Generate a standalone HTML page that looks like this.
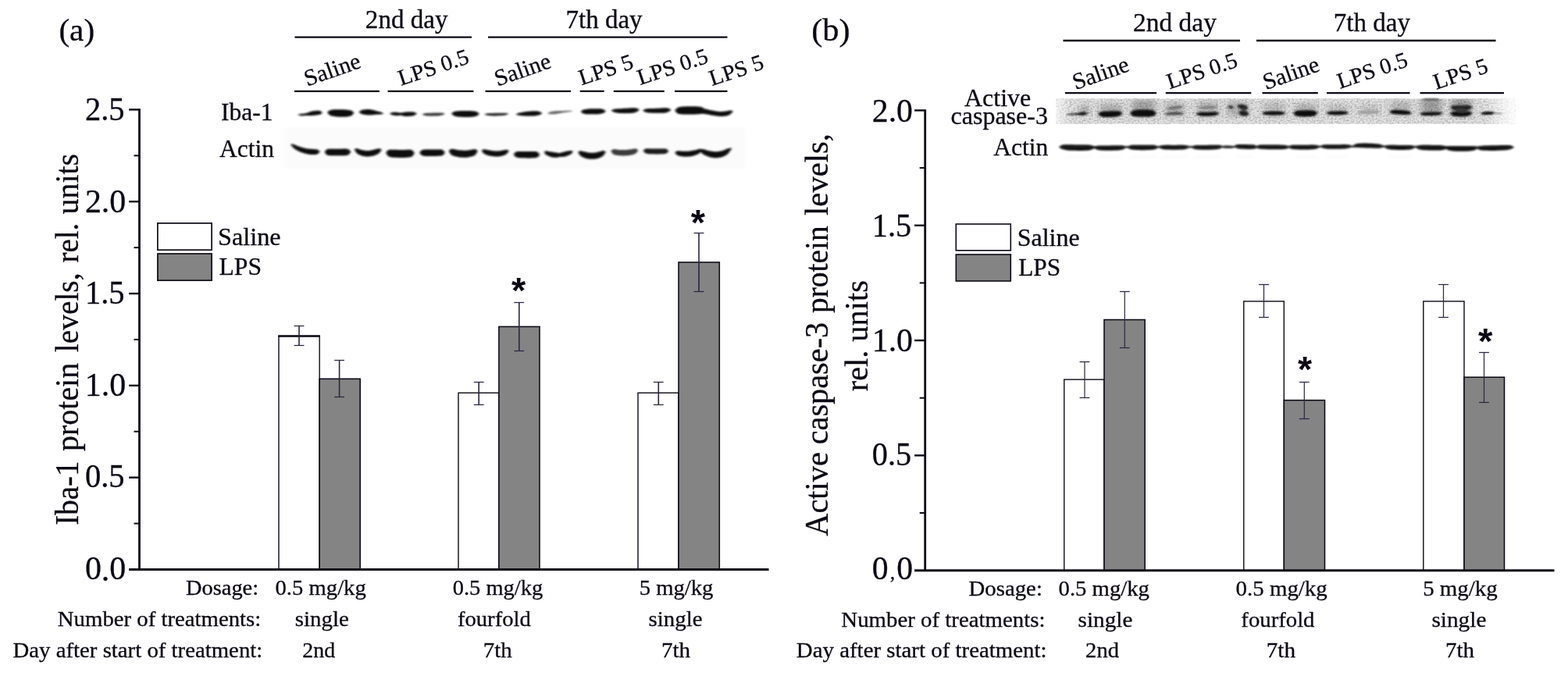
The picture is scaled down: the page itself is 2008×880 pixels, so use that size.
<!DOCTYPE html>
<html lang="en"><head><meta charset="utf-8"><title>Figure</title>
<style>html,body{margin:0;padding:0;background:#fff}body{width:2008px;height:880px;overflow:hidden}svg{display:block}.s{font-family:"Liberation Serif","Times New Roman",serif;fill:#0c0814;stroke:#0c0814;stroke-width:0.3px}.b{font-family:"Liberation Sans",Arial,sans-serif;font-weight:700;fill:#0c0814}</style></head><body>
<svg width="2008" height="880" viewBox="0 0 2008 880">
<defs><filter id="bl1" filterUnits="userSpaceOnUse" x="340" y="110" width="1640" height="120"><feGaussianBlur stdDeviation="1.5 1.0"/></filter><filter id="bl2" filterUnits="userSpaceOnUse" x="340" y="110" width="1640" height="120"><feGaussianBlur stdDeviation="2.4 1.6"/></filter><filter id="bl3" filterUnits="userSpaceOnUse" x="340" y="110" width="1640" height="120"><feGaussianBlur stdDeviation="4 3"/></filter><filter id="nz" filterUnits="userSpaceOnUse" x="1352" y="126.2" width="588.5" height="32.6"><feTurbulence type="fractalNoise" baseFrequency="0.4 0.5" numOctaves="2" seed="11" result="n"/><feColorMatrix in="n" type="matrix" values="0 0 0 0 0  0 0 0 0 0  0 0 0 0 0  0.38 0.38 0 0 -0.31"/></filter><linearGradient id="gb" x1="0" x2="1" y1="0" y2="0"><stop offset="0" stop-color="#f0f0f0"/><stop offset="0.035" stop-color="#e6e6e6"/><stop offset="0.93" stop-color="#e6e6e6"/><stop offset="1" stop-color="#f8f8f8"/></linearGradient><linearGradient id="gf" x1="0" x2="1" y1="0" y2="0"><stop offset="0" stop-color="#fff" stop-opacity="0.6"/><stop offset="0.03" stop-color="#fff" stop-opacity="0"/><stop offset="0.935" stop-color="#fff" stop-opacity="0"/><stop offset="1" stop-color="#fff" stop-opacity="0.85"/></linearGradient><clipPath id="cpB"><rect x="1352" y="126.2" width="588.5" height="32.6"/></clipPath></defs>
<rect width="2008" height="880" fill="#fff"/>
<g id="blotA">
<rect x="366" y="163" width="588" height="53" fill="#fbfbfb" filter="url(#bl2)"/>
<g filter="url(#bl1)">
<path d="M381.5 146.80C381.5 146.44 383.2 146.08 384.1 145.89C384.9 145.69 385.8 145.73 386.7 145.65C387.5 145.57 388.4 145.49 389.2 145.40C390.1 145.30 391.0 145.25 391.8 145.06C392.7 144.87 393.6 144.55 394.4 144.25C395.3 143.96 396.1 143.58 397.0 143.29C397.9 143.01 398.7 142.73 399.6 142.54C400.4 142.34 401.3 142.25 402.2 142.12C403.0 142.00 403.9 141.87 404.8 141.79C405.6 141.72 406.5 141.63 407.3 141.65C408.2 141.68 409.1 141.50 409.9 141.95C410.8 142.41 412.5 143.62 412.5 144.40C412.5 145.18 410.8 146.19 409.9 146.64C409.1 147.09 408.2 146.97 407.3 147.09C406.5 147.22 405.6 147.29 404.8 147.39C403.9 147.49 403.0 147.59 402.2 147.70C401.3 147.82 400.4 147.99 399.6 148.07C398.7 148.14 397.9 148.16 397.0 148.15C396.1 148.14 395.3 148.06 394.4 148.02C393.6 147.99 392.7 147.92 391.8 147.95C391.0 147.98 390.1 148.14 389.2 148.19C388.4 148.25 387.5 148.30 386.7 148.28C385.8 148.26 384.9 148.32 384.1 148.07C383.2 147.82 381.5 147.16 381.5 146.80Z" fill="#0a0a0a"/>
<path d="M419.5 144.20C419.5 143.18 421.4 141.95 422.3 141.35C423.2 140.76 424.2 140.81 425.1 140.64C426.0 140.47 426.9 140.40 427.9 140.33C428.8 140.27 429.7 140.25 430.7 140.24C431.6 140.22 432.5 140.24 433.5 140.25C434.4 140.26 435.3 140.29 436.2 140.30C437.2 140.32 438.1 140.33 439.0 140.35C440.0 140.37 440.9 140.39 441.8 140.44C442.8 140.48 443.7 140.53 444.6 140.63C445.6 140.73 446.5 140.83 447.4 141.04C448.3 141.24 449.3 141.23 450.2 141.85C451.1 142.48 453.0 143.78 453.0 144.80C453.0 145.82 451.1 147.27 450.2 147.95C449.3 148.64 448.3 148.68 447.4 148.92C446.5 149.17 445.6 149.30 444.6 149.42C443.7 149.55 442.8 149.61 441.8 149.66C440.9 149.71 440.0 149.72 439.0 149.73C438.1 149.74 437.2 149.72 436.2 149.70C435.3 149.69 434.4 149.67 433.5 149.63C432.5 149.59 431.6 149.54 430.7 149.46C429.7 149.38 428.8 149.28 427.9 149.12C426.9 148.97 426.0 148.80 425.1 148.52C424.2 148.24 423.2 148.18 422.3 147.45C421.4 146.73 419.5 145.22 419.5 144.20Z" fill="#0a0a0a"/>
<path d="M460.0 143.60C460.0 142.84 461.7 141.79 462.6 141.29C463.4 140.78 464.3 140.75 465.2 140.57C466.0 140.39 466.9 140.29 467.8 140.20C468.6 140.12 469.5 140.08 470.3 140.06C471.2 140.03 472.1 140.00 472.9 140.07C473.8 140.13 474.6 140.27 475.5 140.43C476.4 140.59 477.2 140.81 478.1 141.02C478.9 141.23 479.8 141.46 480.7 141.70C481.5 141.94 482.4 142.22 483.2 142.46C484.1 142.69 485.0 142.87 485.8 143.11C486.7 143.36 487.6 143.54 488.4 143.92C489.3 144.31 491.0 145.02 491.0 145.40C491.0 145.78 489.3 146.03 488.4 146.20C487.6 146.36 486.7 146.35 485.8 146.40C485.0 146.45 484.1 146.45 483.2 146.51C482.4 146.58 481.5 146.71 480.7 146.80C479.8 146.90 478.9 146.99 478.1 147.08C477.2 147.16 476.4 147.28 475.5 147.33C474.6 147.39 473.8 147.45 472.9 147.43C472.1 147.42 471.2 147.32 470.3 147.24C469.5 147.16 468.6 147.08 467.8 146.97C466.9 146.85 466.0 146.73 465.2 146.54C464.3 146.35 463.4 146.32 462.6 145.83C461.7 145.34 460.0 144.36 460.0 143.60Z" fill="#0a0a0a"/>
<path d="M499.5 145.40C499.5 144.86 501.4 144.28 502.3 144.02C503.3 143.76 504.2 143.85 505.2 143.82C506.1 143.78 507.1 143.76 508.0 143.81C508.9 143.86 509.9 144.03 510.8 144.14C511.8 144.25 512.7 144.50 513.7 144.48C514.6 144.46 515.6 144.19 516.5 144.03C517.4 143.86 518.4 143.61 519.3 143.51C520.3 143.40 521.2 143.40 522.2 143.38C523.1 143.35 524.1 143.35 525.0 143.37C525.9 143.38 526.9 143.38 527.8 143.45C528.8 143.52 529.7 143.43 530.7 143.78C531.6 144.14 533.5 144.93 533.5 145.60C533.5 146.27 531.6 147.34 530.7 147.81C529.7 148.29 528.8 148.30 527.8 148.47C526.9 148.63 525.9 148.71 525.0 148.79C524.1 148.87 523.1 148.92 522.2 148.94C521.2 148.96 520.3 148.99 519.3 148.90C518.4 148.80 517.4 148.55 516.5 148.38C515.6 148.21 514.6 147.91 513.7 147.86C512.7 147.80 511.8 148.00 510.8 148.05C509.9 148.09 508.9 148.18 508.0 148.15C507.1 148.11 506.1 147.98 505.2 147.83C504.2 147.68 503.3 147.65 502.3 147.24C501.4 146.84 499.5 145.94 499.5 145.40Z" fill="#0a0a0a"/>
<path d="M541.0 146.40C541.0 145.99 542.6 145.52 543.4 145.28C544.2 145.04 545.0 145.05 545.8 144.97C546.5 144.89 547.3 144.85 548.1 144.81C548.9 144.77 549.7 144.74 550.5 144.72C551.3 144.69 552.1 144.68 552.9 144.66C553.7 144.65 554.5 144.63 555.2 144.62C556.0 144.60 556.8 144.58 557.6 144.56C558.4 144.55 559.2 144.53 560.0 144.52C560.8 144.51 561.6 144.50 562.4 144.51C563.2 144.52 564.0 144.53 564.8 144.57C565.5 144.62 566.3 144.57 567.1 144.78C567.9 144.98 569.5 145.39 569.5 145.80C569.5 146.21 567.9 146.90 567.1 147.24C566.3 147.57 565.5 147.65 564.8 147.80C564.0 147.96 563.2 148.07 562.4 148.17C561.6 148.27 560.8 148.34 560.0 148.40C559.2 148.46 558.4 148.51 557.6 148.54C556.8 148.58 556.0 148.60 555.2 148.62C554.5 148.63 553.7 148.65 552.9 148.64C552.1 148.64 551.3 148.63 550.5 148.60C549.7 148.57 548.9 148.53 548.1 148.47C547.3 148.40 546.5 148.32 545.8 148.20C545.0 148.08 544.2 148.04 543.4 147.74C542.6 147.44 541.0 146.81 541.0 146.40Z" fill="#3c3c3c"/>
<path d="M578.5 145.60C578.5 144.73 580.4 143.64 581.4 143.11C582.4 142.59 583.4 142.61 584.3 142.44C585.3 142.28 586.3 142.21 587.2 142.13C588.2 142.06 589.2 142.03 590.2 142.01C591.1 141.98 592.1 141.99 593.1 141.98C594.1 141.98 595.0 141.99 596.0 142.00C597.0 142.01 597.9 142.01 598.9 142.02C599.9 142.03 600.9 142.04 601.8 142.07C602.8 142.11 603.8 142.15 604.8 142.23C605.7 142.32 606.7 142.40 607.7 142.58C608.6 142.75 609.6 142.74 610.6 143.28C611.6 143.82 613.5 144.93 613.5 145.80C613.5 146.67 611.6 147.89 610.6 148.47C609.6 149.05 608.6 149.08 607.7 149.29C606.7 149.50 605.7 149.61 604.8 149.72C603.8 149.82 602.8 149.88 601.8 149.93C600.9 149.97 599.9 149.99 598.9 150.00C597.9 150.01 597.0 150.01 596.0 150.00C595.0 149.99 594.1 149.99 593.1 149.97C592.1 149.94 591.1 149.92 590.2 149.86C589.2 149.80 588.2 149.73 587.2 149.62C586.3 149.50 585.3 149.37 584.3 149.16C583.4 148.94 582.4 148.90 581.4 148.30C580.4 147.71 578.5 146.47 578.5 145.60Z" fill="#0a0a0a"/>
<path d="M620.5 146.40C620.5 146.03 622.2 145.61 623.1 145.40C623.9 145.18 624.8 145.19 625.7 145.12C626.5 145.06 627.4 145.02 628.2 144.98C629.1 144.94 630.0 144.92 630.8 144.90C631.7 144.87 632.6 144.86 633.4 144.84C634.3 144.83 635.1 144.82 636.0 144.80C636.9 144.78 637.7 144.76 638.6 144.74C639.4 144.73 640.3 144.71 641.2 144.70C642.0 144.69 642.9 144.68 643.8 144.68C644.6 144.68 645.5 144.69 646.3 144.72C647.2 144.76 648.1 144.72 648.9 144.90C649.8 145.08 651.5 145.43 651.5 145.80C651.5 146.17 649.8 146.80 648.9 147.11C648.1 147.41 647.2 147.49 646.3 147.63C645.5 147.77 644.6 147.88 643.8 147.97C642.9 148.06 642.0 148.13 641.2 148.19C640.3 148.25 639.4 148.29 638.6 148.33C637.7 148.36 636.9 148.38 636.0 148.40C635.1 148.42 634.3 148.43 633.4 148.43C632.6 148.43 631.7 148.42 630.8 148.39C630.0 148.37 629.1 148.33 628.2 148.27C627.4 148.21 626.5 148.14 625.7 148.03C624.8 147.92 623.9 147.88 623.1 147.61C622.2 147.34 620.5 146.77 620.5 146.40Z" fill="#2e2e2e"/>
<path d="M661.0 146.40C661.0 145.97 662.8 145.31 663.8 144.96C664.7 144.60 665.6 144.46 666.5 144.25C667.4 144.04 668.3 143.86 669.2 143.69C670.2 143.52 671.1 143.36 672.0 143.22C672.9 143.08 673.8 142.95 674.8 142.86C675.7 142.76 676.6 142.70 677.5 142.63C678.4 142.57 679.3 142.50 680.2 142.45C681.2 142.39 682.1 142.34 683.0 142.32C683.9 142.31 684.8 142.32 685.8 142.37C686.7 142.41 687.6 142.48 688.5 142.61C689.4 142.73 690.3 142.73 691.2 143.13C692.2 143.53 694.0 144.34 694.0 145.00C694.0 145.66 692.2 146.60 691.2 147.06C690.3 147.52 689.4 147.58 688.5 147.77C687.6 147.97 686.7 148.10 685.8 148.22C684.8 148.33 683.9 148.41 683.0 148.47C682.1 148.53 681.2 148.54 680.2 148.57C679.3 148.59 678.4 148.60 677.5 148.61C676.6 148.62 675.7 148.64 674.8 148.62C673.8 148.61 672.9 148.56 672.0 148.50C671.1 148.45 670.2 148.38 669.2 148.29C668.3 148.21 667.4 148.12 666.5 148.00C665.6 147.87 664.7 147.83 663.8 147.56C662.8 147.30 661.0 146.83 661.0 146.40Z" fill="#0a0a0a"/>
<path d="M701.5 145.20C701.5 144.78 703.3 144.01 704.2 143.62C705.1 143.23 705.9 143.09 706.8 142.87C707.7 142.65 708.6 142.44 709.5 142.29C710.4 142.14 711.3 142.02 712.2 141.96C713.1 141.89 713.9 141.91 714.8 141.91C715.7 141.90 716.6 141.91 717.5 141.92C718.4 141.93 719.3 141.96 720.2 141.95C721.1 141.95 721.9 141.90 722.8 141.88C723.7 141.86 724.6 141.83 725.5 141.81C726.4 141.80 727.3 141.79 728.2 141.80C729.1 141.80 729.9 141.78 730.8 141.85C731.7 141.91 733.5 142.02 733.5 142.20C733.5 142.38 731.7 142.72 730.8 142.91C729.9 143.09 729.1 143.20 728.2 143.33C727.3 143.47 726.4 143.60 725.5 143.72C724.6 143.85 723.7 143.96 722.8 144.09C721.9 144.21 721.1 144.32 720.2 144.47C719.3 144.62 718.4 144.82 717.5 145.00C716.6 145.17 715.7 145.35 714.8 145.52C713.9 145.69 713.1 145.89 712.2 146.01C711.3 146.13 710.4 146.20 709.5 146.24C708.6 146.29 707.7 146.28 706.8 146.26C705.9 146.24 705.1 146.31 704.2 146.13C703.3 145.95 701.5 145.62 701.5 145.20Z" fill="#6a6a6a"/>
<path d="M744.0 143.00C744.0 142.24 745.8 141.21 746.6 140.71C747.5 140.21 748.4 140.20 749.2 140.02C750.1 139.85 751.0 139.75 751.9 139.65C752.8 139.56 753.6 139.51 754.5 139.46C755.4 139.41 756.2 139.39 757.1 139.36C758.0 139.33 758.9 139.32 759.8 139.30C760.6 139.29 761.5 139.27 762.4 139.26C763.2 139.25 764.1 139.24 765.0 139.26C765.9 139.27 766.8 139.29 767.6 139.35C768.5 139.42 769.4 139.48 770.2 139.62C771.1 139.76 772.0 139.75 772.9 140.21C773.8 140.67 775.5 141.64 775.5 142.40C775.5 143.16 773.8 144.24 772.9 144.75C772.0 145.27 771.1 145.30 770.2 145.49C769.4 145.69 768.5 145.80 767.6 145.90C766.8 146.01 765.9 146.07 765.0 146.13C764.1 146.18 763.2 146.21 762.4 146.24C761.5 146.27 760.6 146.29 759.8 146.30C758.9 146.32 758.0 146.34 757.1 146.34C756.2 146.35 755.4 146.35 754.5 146.33C753.6 146.30 752.8 146.27 751.9 146.20C751.0 146.13 750.1 146.05 749.2 145.89C748.4 145.74 747.5 145.74 746.6 145.25C745.8 144.77 744.0 143.76 744.0 143.00Z" fill="#0a0a0a"/>
<path d="M783.0 141.60C783.0 141.01 785.0 140.36 786.0 140.03C786.9 139.69 787.9 139.69 788.9 139.57C789.9 139.45 790.9 139.38 791.9 139.31C792.9 139.24 793.8 139.18 794.8 139.13C795.8 139.08 796.8 139.03 797.8 138.98C798.8 138.93 799.8 138.89 800.8 138.83C801.7 138.77 802.7 138.70 803.7 138.63C804.7 138.57 805.7 138.49 806.7 138.43C807.7 138.38 808.6 138.31 809.6 138.29C810.6 138.27 811.6 138.25 812.6 138.32C813.6 138.38 814.6 138.30 815.5 138.68C816.5 139.06 818.5 139.84 818.5 140.60C818.5 141.36 816.5 142.63 815.5 143.22C814.6 143.82 813.6 143.94 812.6 144.19C811.6 144.44 810.6 144.60 809.6 144.73C808.6 144.86 807.7 144.93 806.7 145.00C805.7 145.06 804.7 145.09 803.7 145.11C802.7 145.13 801.7 145.13 800.8 145.13C799.8 145.13 798.8 145.12 797.8 145.09C796.8 145.07 795.8 145.03 794.8 144.97C793.8 144.90 792.9 144.83 791.9 144.71C790.9 144.60 789.9 144.47 788.9 144.27C787.9 144.08 786.9 143.99 786.0 143.55C785.0 143.10 783.0 142.19 783.0 141.60Z" fill="#0a0a0a"/>
<path d="M823.5 141.40C823.5 140.76 825.5 140.00 826.5 139.64C827.4 139.27 828.4 139.31 829.4 139.20C830.4 139.10 831.4 139.05 832.4 139.00C833.4 138.95 834.3 138.94 835.3 138.92C836.3 138.89 837.3 138.89 838.3 138.88C839.3 138.86 840.3 138.88 841.2 138.84C842.2 138.80 843.2 138.70 844.2 138.63C845.2 138.56 846.2 138.49 847.2 138.43C848.2 138.37 849.1 138.30 850.1 138.29C851.1 138.28 852.1 138.28 853.1 138.36C854.1 138.44 855.1 138.39 856.0 138.80C857.0 139.20 859.0 140.04 859.0 140.80C859.0 141.56 857.0 142.77 856.0 143.34C855.1 143.91 854.1 144.01 853.1 144.23C852.1 144.46 851.1 144.58 850.1 144.68C849.1 144.78 848.2 144.81 847.2 144.84C846.2 144.87 845.2 144.87 844.2 144.86C843.2 144.85 842.2 144.80 841.2 144.79C840.3 144.78 839.3 144.82 838.3 144.81C837.3 144.81 836.3 144.79 835.3 144.75C834.3 144.71 833.4 144.66 832.4 144.57C831.4 144.47 830.4 144.37 829.4 144.19C828.4 144.01 827.4 143.96 826.5 143.50C825.5 143.03 823.5 142.04 823.5 141.40Z" fill="#0a0a0a"/>
<path d="M864.5 141.60C864.5 140.38 866.6 138.66 867.7 137.88C868.8 137.11 869.8 137.17 870.9 136.94C872.0 136.72 873.1 136.63 874.1 136.54C875.2 136.44 876.3 136.41 877.3 136.38C878.4 136.34 879.5 136.34 880.5 136.32C881.6 136.31 882.7 136.31 883.8 136.30C884.8 136.30 885.9 136.29 887.0 136.29C888.0 136.29 889.1 136.29 890.2 136.31C891.2 136.34 892.3 136.35 893.4 136.44C894.4 136.52 895.5 136.60 896.6 136.81C897.7 137.02 898.7 136.95 899.8 137.72C900.9 138.48 903.0 140.18 903.0 141.40C903.0 142.62 900.9 144.30 899.8 145.06C898.7 145.81 897.7 145.74 896.6 145.95C895.5 146.16 894.4 146.23 893.4 146.31C892.3 146.40 891.2 146.42 890.2 146.45C889.1 146.48 888.0 146.48 887.0 146.49C885.9 146.49 884.8 146.50 883.8 146.50C882.7 146.51 881.6 146.52 880.5 146.52C879.5 146.52 878.4 146.53 877.3 146.51C876.3 146.50 875.2 146.49 874.1 146.41C873.1 146.34 872.0 146.28 870.9 146.08C869.8 145.88 868.8 145.97 867.7 145.22C866.6 144.48 864.5 142.82 864.5 141.60Z" fill="#0a0a0a"/>
<path d="M893.0 141.32C893.0 140.22 895.5 138.83 896.8 138.43C898.1 138.03 899.3 138.67 900.6 138.91C901.8 139.14 903.1 139.53 904.4 139.84C905.6 140.16 906.9 140.50 908.2 140.79C909.4 141.07 910.7 141.32 912.0 141.56C913.2 141.80 914.5 142.03 915.8 142.23C917.0 142.42 918.3 142.59 919.5 142.70C920.8 142.82 922.1 142.90 923.3 142.92C924.6 142.93 925.9 142.90 927.1 142.80C928.4 142.70 929.7 142.51 930.9 142.31C932.2 142.10 933.4 141.54 934.7 141.58C936.0 141.61 938.5 141.67 938.5 142.54C938.5 143.40 936.0 145.83 934.7 146.77C933.4 147.70 932.2 147.82 930.9 148.15C929.7 148.49 928.4 148.65 927.1 148.79C925.9 148.92 924.6 148.96 923.3 148.96C922.1 148.95 920.8 148.88 919.5 148.78C918.3 148.68 917.0 148.52 915.8 148.34C914.5 148.16 913.2 147.94 912.0 147.71C910.7 147.48 909.4 147.20 908.2 146.97C906.9 146.74 905.6 146.54 904.4 146.34C903.1 146.15 901.8 146.01 900.6 145.80C899.3 145.58 898.1 145.78 896.8 145.04C895.5 144.29 893.0 142.42 893.0 141.32Z" fill="#0a0a0a"/>
<path d="M372.5 185.00C372.5 184.24 374.6 184.56 375.6 184.72C376.6 184.89 377.6 185.55 378.7 185.97C379.7 186.40 380.7 186.85 381.8 187.25C382.8 187.65 383.8 188.03 384.8 188.37C385.9 188.71 386.9 189.01 387.9 189.28C388.9 189.54 390.0 189.78 391.0 189.98C392.0 190.18 393.1 190.34 394.1 190.47C395.1 190.60 396.1 190.69 397.2 190.77C398.2 190.85 399.2 190.91 400.2 190.97C401.3 191.03 402.3 191.05 403.3 191.15C404.4 191.24 405.4 191.02 406.4 191.53C407.4 192.04 409.5 193.22 409.5 194.20C409.5 195.18 407.4 196.76 406.4 197.40C405.4 198.04 404.4 197.90 403.3 198.02C402.3 198.14 401.3 198.14 400.2 198.11C399.2 198.09 398.2 198.01 397.2 197.89C396.1 197.77 395.1 197.59 394.1 197.39C393.1 197.19 392.0 196.96 391.0 196.70C390.0 196.43 388.9 196.14 387.9 195.80C386.9 195.46 385.9 195.08 384.8 194.66C383.8 194.24 382.8 193.79 381.8 193.28C380.7 192.76 379.7 192.22 378.7 191.56C377.6 190.90 376.6 190.41 375.6 189.31C374.6 188.22 372.5 185.76 372.5 185.00Z" fill="#0a0a0a"/>
<path d="M416.0 194.80C416.0 193.63 417.8 192.03 418.8 191.37C419.7 190.70 420.6 190.94 421.5 190.82C422.4 190.71 423.3 190.73 424.2 190.71C425.2 190.69 426.1 190.70 427.0 190.70C427.9 190.70 428.8 190.71 429.8 190.71C430.7 190.71 431.6 190.70 432.5 190.70C433.4 190.69 434.3 190.68 435.2 190.67C436.2 190.66 437.1 190.64 438.0 190.63C438.9 190.62 439.8 190.60 440.8 190.61C441.7 190.62 442.6 190.59 443.5 190.69C444.4 190.79 445.3 190.55 446.2 191.20C447.2 191.85 449.0 193.43 449.0 194.60C449.0 195.77 447.2 197.50 446.2 198.21C445.3 198.93 444.4 198.75 443.5 198.91C442.6 199.06 441.7 199.09 440.8 199.14C439.8 199.19 438.9 199.21 438.0 199.23C437.1 199.25 436.2 199.26 435.2 199.27C434.3 199.28 433.4 199.29 432.5 199.30C431.6 199.30 430.7 199.31 429.8 199.31C428.8 199.31 427.9 199.31 427.0 199.29C426.1 199.28 425.2 199.28 424.2 199.24C423.3 199.20 422.4 199.18 421.5 199.04C420.6 198.90 419.7 199.09 418.8 198.38C417.8 197.67 416.0 195.97 416.0 194.80Z" fill="#0a0a0a"/>
<path d="M454.0 191.20C454.0 190.22 455.9 190.17 456.9 190.14C457.8 190.11 458.8 190.71 459.8 191.00C460.7 191.29 461.7 191.62 462.6 191.88C463.6 192.13 464.5 192.36 465.5 192.53C466.5 192.70 467.4 192.82 468.4 192.89C469.3 192.96 470.3 192.97 471.2 192.94C472.2 192.91 473.2 192.83 474.1 192.70C475.1 192.58 476.0 192.40 477.0 192.20C478.0 192.00 478.9 191.75 479.9 191.51C480.8 191.26 481.8 190.96 482.8 190.74C483.7 190.52 484.7 190.01 485.6 190.19C486.6 190.36 488.5 190.82 488.5 191.80C488.5 192.78 486.6 195.06 485.6 196.06C484.7 197.07 483.7 197.33 482.8 197.82C481.8 198.31 480.8 198.66 479.9 198.99C478.9 199.31 478.0 199.57 477.0 199.79C476.0 200.01 475.1 200.18 474.1 200.30C473.2 200.43 472.2 200.51 471.2 200.54C470.3 200.57 469.3 200.56 468.4 200.49C467.4 200.42 466.5 200.31 465.5 200.12C464.5 199.93 463.6 199.70 462.6 199.36C461.7 199.02 460.7 198.64 459.8 198.08C458.8 197.53 457.8 197.17 456.9 196.02C455.9 194.87 454.0 192.18 454.0 191.20Z" fill="#0a0a0a"/>
<path d="M494.5 195.80C494.5 194.44 496.5 192.76 497.5 192.08C498.5 191.39 499.5 191.73 500.5 191.67C501.5 191.61 502.5 191.69 503.5 191.72C504.5 191.75 505.5 191.81 506.5 191.85C507.5 191.89 508.5 191.93 509.5 191.96C510.5 191.98 511.5 192.00 512.5 192.00C513.5 192.01 514.5 192.00 515.5 191.99C516.5 191.98 517.5 191.95 518.5 191.92C519.5 191.89 520.5 191.84 521.5 191.82C522.5 191.80 523.5 191.73 524.5 191.80C525.5 191.88 526.5 191.54 527.5 192.24C528.5 192.94 530.5 194.64 530.5 196.00C530.5 197.36 528.5 199.51 527.5 200.40C526.5 201.29 525.5 201.13 524.5 201.36C523.5 201.58 522.5 201.65 521.5 201.74C520.5 201.83 519.5 201.87 518.5 201.91C517.5 201.95 516.5 201.97 515.5 201.99C514.5 202.01 513.5 202.01 512.5 202.00C511.5 202.00 510.5 201.98 509.5 201.96C508.5 201.93 507.5 201.90 506.5 201.84C505.5 201.79 504.5 201.74 503.5 201.64C502.5 201.53 501.5 201.46 500.5 201.22C499.5 200.99 498.5 201.14 497.5 200.23C496.5 199.33 494.5 197.16 494.5 195.80Z" fill="#0a0a0a"/>
<path d="M537.5 195.60C537.5 194.46 539.3 192.90 540.2 192.25C541.1 191.60 541.9 191.83 542.8 191.72C543.7 191.62 544.6 191.63 545.5 191.61C546.4 191.59 547.3 191.61 548.2 191.61C549.1 191.61 549.9 191.61 550.8 191.61C551.7 191.61 552.6 191.61 553.5 191.60C554.4 191.60 555.3 191.59 556.2 191.58C557.1 191.57 557.9 191.55 558.8 191.54C559.7 191.53 560.6 191.50 561.5 191.51C562.4 191.52 563.3 191.49 564.2 191.59C565.1 191.69 565.9 191.45 566.8 192.08C567.7 192.72 569.5 194.26 569.5 195.40C569.5 196.54 567.7 198.23 566.8 198.93C565.9 199.64 565.1 199.46 564.2 199.61C563.3 199.76 562.4 199.79 561.5 199.84C560.6 199.90 559.7 199.91 558.8 199.93C557.9 199.96 557.1 199.97 556.2 199.98C555.3 199.99 554.4 200.00 553.5 200.00C552.6 200.01 551.7 200.01 550.8 200.01C549.9 200.01 549.1 200.01 548.2 200.00C547.3 199.99 546.4 199.99 545.5 199.94C544.6 199.90 543.7 199.89 542.8 199.75C541.9 199.61 541.1 199.79 540.2 199.10C539.3 198.41 537.5 196.74 537.5 195.60Z" fill="#0a0a0a"/>
<path d="M575.0 193.40C575.0 192.18 577.0 191.20 578.0 190.82C579.1 190.43 580.1 190.96 581.1 191.10C582.1 191.25 583.1 191.49 584.1 191.67C585.1 191.85 586.2 192.04 587.2 192.19C588.2 192.33 589.2 192.45 590.2 192.54C591.2 192.62 592.2 192.68 593.2 192.70C594.3 192.71 595.3 192.70 596.3 192.65C597.3 192.60 598.3 192.51 599.3 192.39C600.3 192.27 601.4 192.11 602.4 191.94C603.4 191.78 604.4 191.55 605.4 191.41C606.4 191.27 607.4 190.74 608.5 191.10C609.5 191.47 611.5 192.38 611.5 193.60C611.5 194.82 609.5 197.37 608.5 198.44C607.4 199.51 606.4 199.60 605.4 200.00C604.4 200.41 603.4 200.64 602.4 200.87C601.4 201.10 600.3 201.25 599.3 201.38C598.3 201.51 597.3 201.59 596.3 201.65C595.3 201.70 594.3 201.71 593.2 201.70C592.2 201.68 591.2 201.62 590.2 201.54C589.2 201.45 588.2 201.34 587.2 201.18C586.2 201.02 585.1 200.85 584.1 200.60C583.1 200.35 582.1 200.11 581.1 199.70C580.1 199.29 579.1 199.21 578.0 198.16C577.0 197.11 575.0 194.62 575.0 193.40Z" fill="#0a0a0a"/>
<path d="M617.0 193.00C617.0 192.10 618.9 191.58 619.9 191.37C620.8 191.16 621.8 191.59 622.8 191.75C623.7 191.91 624.7 192.14 625.6 192.33C626.6 192.52 627.5 192.72 628.5 192.87C629.5 193.03 630.4 193.17 631.4 193.27C632.3 193.37 633.3 193.44 634.2 193.47C635.2 193.50 636.2 193.49 637.1 193.45C638.1 193.41 639.0 193.33 640.0 193.22C641.0 193.11 641.9 192.95 642.9 192.78C643.8 192.62 644.8 192.39 645.8 192.23C646.7 192.06 647.7 191.62 648.6 191.78C649.6 191.94 651.5 192.30 651.5 193.20C651.5 194.10 649.6 196.27 648.6 197.19C647.7 198.12 646.7 198.34 645.8 198.75C644.8 199.16 643.8 199.43 642.9 199.67C641.9 199.91 641.0 200.07 640.0 200.20C639.0 200.33 638.1 200.41 637.1 200.45C636.2 200.50 635.2 200.50 634.2 200.47C633.3 200.44 632.3 200.37 631.4 200.27C630.4 200.17 629.5 200.03 628.5 199.86C627.5 199.68 626.6 199.48 625.6 199.22C624.7 198.96 623.7 198.68 622.8 198.27C621.8 197.86 620.8 197.66 619.9 196.79C618.9 195.91 617.0 193.90 617.0 193.00Z" fill="#0a0a0a"/>
<path d="M658.0 197.80C658.0 196.66 659.8 195.12 660.8 194.48C661.7 193.85 662.6 194.08 663.5 193.98C664.4 193.89 665.3 193.91 666.2 193.90C667.2 193.89 668.1 193.92 669.0 193.93C669.9 193.94 670.8 193.96 671.8 193.97C672.7 193.98 673.6 193.99 674.5 193.99C675.4 194.00 676.3 194.00 677.2 194.00C678.2 194.00 679.1 194.00 680.0 194.00C680.9 194.00 681.8 193.98 682.8 194.00C683.7 194.02 684.6 194.01 685.5 194.12C686.4 194.23 687.3 194.00 688.2 194.65C689.2 195.29 691.0 196.86 691.0 198.00C691.0 199.14 689.2 200.81 688.2 201.50C687.3 202.19 686.4 202.00 685.5 202.14C684.6 202.28 683.7 202.30 682.8 202.34C681.8 202.38 680.9 202.38 680.0 202.39C679.1 202.40 678.2 202.40 677.2 202.40C676.3 202.40 675.4 202.40 674.5 202.39C673.6 202.39 672.7 202.38 671.8 202.37C670.8 202.36 669.9 202.35 669.0 202.32C668.1 202.30 667.2 202.29 666.2 202.24C665.3 202.18 664.4 202.16 663.5 202.01C662.6 201.86 661.7 202.03 660.8 201.33C659.8 200.63 658.0 198.94 658.0 197.80Z" fill="#0a0a0a"/>
<path d="M697.0 194.80C697.0 194.09 698.1 193.60 698.7 193.39C699.2 193.18 699.8 193.46 700.3 193.53C700.9 193.61 701.4 193.75 702.0 193.85C702.6 193.96 703.1 194.07 703.7 194.16C704.2 194.26 704.8 194.34 705.3 194.42C705.9 194.49 706.4 194.51 707.0 194.60C707.6 194.69 708.1 194.84 708.7 194.94C709.2 195.04 709.8 195.12 710.3 195.20C710.9 195.28 711.4 195.34 712.0 195.41C712.6 195.48 713.1 195.52 713.7 195.63C714.2 195.74 714.8 195.59 715.3 196.08C715.9 196.58 717.0 197.73 717.0 198.60C717.0 199.47 715.9 200.75 715.3 201.28C714.8 201.80 714.2 201.65 713.7 201.75C713.1 201.84 712.6 201.83 712.0 201.84C711.4 201.84 710.9 201.81 710.3 201.77C709.8 201.74 709.2 201.69 708.7 201.62C708.1 201.56 707.6 201.52 707.0 201.40C706.4 201.28 705.9 201.06 705.3 200.88C704.8 200.69 704.2 200.49 703.7 200.28C703.1 200.07 702.6 199.85 702.0 199.60C701.4 199.35 700.9 199.10 700.3 198.78C699.8 198.45 699.2 198.30 698.7 197.64C698.1 196.98 697.0 195.51 697.0 194.80Z" fill="#0a0a0a"/>
<path d="M715.0 198.60C715.0 197.82 716.0 196.65 716.5 196.14C717.1 195.63 717.6 195.69 718.1 195.53C718.6 195.36 719.1 195.27 719.6 195.14C720.1 195.02 720.7 194.91 721.2 194.79C721.7 194.67 722.2 194.54 722.7 194.41C723.2 194.27 723.7 194.08 724.2 193.98C724.8 193.88 725.3 193.87 725.8 193.81C726.3 193.74 726.8 193.67 727.3 193.59C727.8 193.51 728.4 193.42 728.9 193.34C729.4 193.26 729.9 193.16 730.4 193.11C730.9 193.06 731.4 192.85 732.0 193.03C732.5 193.21 733.5 193.61 733.5 194.20C733.5 194.79 732.5 196.01 732.0 196.58C731.4 197.16 730.9 197.32 730.4 197.63C729.9 197.94 729.4 198.18 728.9 198.43C728.4 198.68 727.8 198.91 727.3 199.14C726.8 199.36 726.3 199.57 725.8 199.78C725.3 199.99 724.8 200.24 724.2 200.38C723.7 200.53 723.2 200.57 722.7 200.65C722.2 200.73 721.7 200.80 721.2 200.87C720.7 200.93 720.1 201.00 719.6 201.03C719.1 201.07 718.6 201.11 718.1 201.08C717.6 201.04 717.1 201.22 716.5 200.81C716.0 200.39 715.0 199.38 715.0 198.60Z" fill="#0a0a0a"/>
<path d="M740.5 195.00C740.5 193.97 742.4 193.52 743.4 193.34C744.4 193.15 745.4 193.68 746.3 193.89C747.3 194.11 748.3 194.39 749.2 194.62C750.2 194.84 751.2 195.07 752.2 195.24C753.1 195.41 754.1 195.55 755.1 195.64C756.1 195.74 757.0 195.78 758.0 195.79C759.0 195.79 759.9 195.74 760.9 195.65C761.9 195.56 762.9 195.42 763.8 195.24C764.8 195.06 765.8 194.83 766.8 194.59C767.7 194.35 768.7 194.04 769.7 193.79C770.6 193.55 771.6 192.99 772.6 193.12C773.6 193.26 775.5 193.57 775.5 194.60C775.5 195.63 773.6 198.20 772.6 199.31C771.6 200.42 770.6 200.72 769.7 201.25C768.7 201.77 767.7 202.13 766.8 202.46C765.8 202.79 764.8 203.03 763.8 203.22C762.9 203.42 761.9 203.56 760.9 203.65C759.9 203.74 759.0 203.79 758.0 203.79C757.0 203.78 756.1 203.74 755.1 203.64C754.1 203.55 753.1 203.42 752.2 203.22C751.2 203.03 750.2 202.80 749.2 202.49C748.3 202.18 747.3 201.84 746.3 201.35C745.4 200.85 744.4 200.58 743.4 199.53C742.4 198.47 740.5 196.03 740.5 195.00Z" fill="#0a0a0a"/>
<path d="M782.5 193.60C782.5 192.57 784.4 191.63 785.4 191.25C786.3 190.88 787.3 191.28 788.2 191.36C789.2 191.43 790.2 191.58 791.1 191.68C792.1 191.78 793.0 191.88 794.0 191.95C795.0 192.02 795.9 192.06 796.9 192.09C797.8 192.11 798.8 192.10 799.8 192.08C800.7 192.05 801.7 192.00 802.6 191.92C803.6 191.84 804.5 191.74 805.5 191.61C806.5 191.49 807.4 191.33 808.4 191.18C809.3 191.02 810.3 190.82 811.2 190.69C812.2 190.56 813.2 190.10 814.1 190.42C815.1 190.74 817.0 191.57 817.0 192.60C817.0 193.63 815.1 195.71 814.1 196.58C813.2 197.45 812.2 197.49 811.2 197.82C810.3 198.14 809.3 198.34 808.4 198.54C807.4 198.74 806.5 198.88 805.5 199.01C804.5 199.14 803.6 199.24 802.6 199.32C801.7 199.40 800.7 199.45 799.8 199.48C798.8 199.50 797.8 199.51 796.9 199.49C795.9 199.46 795.0 199.42 794.0 199.34C793.0 199.27 792.1 199.18 791.1 199.04C790.2 198.89 789.2 198.76 788.2 198.49C787.3 198.22 786.3 198.23 785.4 197.42C784.4 196.60 782.5 194.63 782.5 193.60Z" fill="#3a3a3a"/>
<path d="M824.0 193.20C824.0 192.26 825.8 191.07 826.7 190.60C827.6 190.12 828.4 190.38 829.3 190.35C830.2 190.31 831.1 190.37 832.0 190.39C832.9 190.42 833.8 190.46 834.7 190.49C835.6 190.52 836.4 190.55 837.3 190.56C838.2 190.58 839.1 190.59 840.0 190.60C840.9 190.61 841.8 190.60 842.7 190.60C843.6 190.59 844.4 190.57 845.3 190.56C846.2 190.54 847.1 190.51 848.0 190.49C848.9 190.48 849.8 190.43 850.7 190.48C851.6 190.52 852.4 190.28 853.3 190.76C854.2 191.25 856.0 192.46 856.0 193.40C856.0 194.34 854.2 195.82 853.3 196.43C852.4 197.04 851.6 196.89 850.7 197.03C849.8 197.17 848.9 197.20 848.0 197.26C847.1 197.31 846.2 197.33 845.3 197.35C844.4 197.38 843.6 197.39 842.7 197.40C841.8 197.40 840.9 197.41 840.0 197.40C839.1 197.39 838.2 197.38 837.3 197.36C836.4 197.35 835.6 197.32 834.7 197.29C833.8 197.25 832.9 197.22 832.0 197.16C831.1 197.09 830.2 197.05 829.3 196.90C828.4 196.75 827.6 196.88 826.7 196.26C825.8 195.65 824.0 194.14 824.0 193.20Z" fill="#1c1c1c"/>
<path d="M864.5 195.40C864.5 194.52 866.4 193.77 867.4 193.45C868.3 193.12 869.3 193.41 870.2 193.44C871.2 193.47 872.2 193.58 873.1 193.64C874.1 193.70 875.0 193.77 876.0 193.80C877.0 193.83 877.9 193.85 878.9 193.83C879.8 193.82 880.8 193.77 881.8 193.69C882.7 193.61 883.7 193.51 884.6 193.36C885.6 193.22 886.5 193.05 887.5 192.84C888.5 192.64 889.4 192.40 890.4 192.16C891.3 191.92 892.3 191.63 893.2 191.39C894.2 191.16 895.2 190.67 896.1 190.77C897.1 190.87 899.0 191.12 899.0 192.00C899.0 192.88 897.1 195.07 896.1 196.03C895.2 196.98 894.2 197.26 893.2 197.73C892.3 198.20 891.3 198.54 890.4 198.85C889.4 199.17 888.5 199.41 887.5 199.63C886.5 199.85 885.6 200.02 884.6 200.16C883.7 200.31 882.7 200.41 881.8 200.49C880.8 200.57 879.8 200.62 878.9 200.63C877.9 200.65 877.0 200.64 876.0 200.59C875.0 200.54 874.1 200.46 873.1 200.33C872.2 200.19 871.2 200.05 870.2 199.78C869.3 199.50 868.3 199.44 867.4 198.71C866.4 197.98 864.5 196.28 864.5 195.40Z" fill="#0a0a0a"/>
<path d="M896.0 192.32C896.0 191.39 898.3 191.20 899.4 191.12C900.6 191.05 901.7 191.59 902.8 191.84C904.0 192.10 905.1 192.40 906.2 192.66C907.4 192.92 908.5 193.18 909.7 193.41C910.8 193.63 911.9 193.86 913.1 193.99C914.2 194.13 915.4 194.21 916.5 194.23C917.6 194.24 918.8 194.19 919.9 194.06C921.1 193.93 922.2 193.74 923.3 193.46C924.5 193.18 925.6 192.82 926.8 192.40C927.9 191.99 929.0 191.34 930.2 190.95C931.3 190.55 932.4 190.25 933.6 190.06C934.7 189.87 937.0 188.97 937.0 189.82C937.0 190.66 934.7 193.67 933.6 195.13C932.4 196.59 931.3 197.72 930.2 198.59C929.0 199.45 927.9 199.86 926.8 200.34C925.6 200.82 924.5 201.17 923.3 201.46C922.2 201.74 921.1 201.93 919.9 202.06C918.8 202.19 917.6 202.24 916.5 202.23C915.4 202.21 914.2 202.13 913.1 201.99C911.9 201.86 910.8 201.68 909.7 201.40C908.5 201.12 907.4 200.77 906.2 200.34C905.1 199.90 904.0 199.41 902.8 198.80C901.7 198.20 900.6 197.79 899.4 196.71C898.3 195.63 896.0 193.25 896.0 192.32Z" fill="#0a0a0a"/>
</g></g>
<g id="blotB">
<rect x="1352" y="126.2" width="588.5" height="32.6" fill="url(#gb)"/>
<g clip-path="url(#cpB)"><g filter="url(#bl3)">
<rect x="1383" y="135" width="11" height="11" fill="#aaa" opacity="1"/>
<rect x="1409" y="133" width="27" height="15" fill="#b4b4b4" opacity="1"/>
<rect x="1450" y="128" width="29" height="20" fill="#a8a8a8" opacity="1"/>
<rect x="1492" y="131" width="24" height="18" fill="#bcbcbc" opacity="1"/>
<rect x="1533" y="130" width="27" height="18" fill="#bababa" opacity="1"/>
<rect x="1572" y="130" width="26" height="19" fill="#b8b8b8" opacity="1"/>
<rect x="1618" y="131" width="27" height="19" fill="#c4c4c4" opacity="1"/>
<rect x="1659" y="133" width="27" height="15" fill="#b8b8b8" opacity="1"/>
<rect x="1700" y="134" width="26" height="13" fill="#c6c6c6" opacity="1"/>
<rect x="1740" y="134" width="26" height="13" fill="#cdcdcd" opacity="1"/>
<rect x="1781" y="130" width="25" height="17" fill="#bcbcbc" opacity="1"/>
<rect x="1820" y="127" width="26" height="20" fill="#a4a4a4" opacity="1"/>
<rect x="1859" y="127" width="25" height="22" fill="#9c9c9c" opacity="1"/>
</g>
<rect x="1352" y="126.2" width="588.5" height="32.6" filter="url(#nz)"/>
<rect x="1352" y="126.2" width="588.5" height="32.6" fill="url(#gf)"/>
</g>
<g filter="url(#bl1)">
<path d="M1365.5 146.60C1365.5 146.45 1367.0 146.20 1367.8 146.07C1368.6 145.93 1369.3 145.88 1370.1 145.79C1370.8 145.71 1371.6 145.64 1372.4 145.57C1373.1 145.49 1373.9 145.43 1374.7 145.36C1375.4 145.30 1376.2 145.24 1377.0 145.18C1377.7 145.12 1378.5 145.12 1379.2 145.00C1380.0 144.89 1380.8 144.64 1381.5 144.47C1382.3 144.30 1383.1 144.12 1383.8 143.97C1384.6 143.81 1385.4 143.60 1386.1 143.55C1386.9 143.50 1387.7 143.59 1388.4 143.65C1389.2 143.72 1389.9 143.69 1390.7 143.95C1391.5 144.20 1393.0 144.73 1393.0 145.20C1393.0 145.67 1391.5 146.41 1390.7 146.77C1389.9 147.13 1389.2 147.20 1388.4 147.37C1387.7 147.53 1386.9 147.71 1386.1 147.76C1385.4 147.80 1384.6 147.68 1383.8 147.61C1383.1 147.55 1382.3 147.46 1381.5 147.37C1380.8 147.28 1380.0 147.11 1379.2 147.07C1378.5 147.03 1377.7 147.11 1377.0 147.12C1376.2 147.14 1375.4 147.15 1374.7 147.15C1373.9 147.15 1373.1 147.15 1372.4 147.14C1371.6 147.13 1370.8 147.12 1370.1 147.09C1369.3 147.07 1368.6 147.07 1367.8 146.98C1367.0 146.90 1365.5 146.75 1365.5 146.60Z" fill="#0a0a0a"/>
<path d="M1406.5 146.00C1406.5 145.13 1408.2 144.04 1409.0 143.52C1409.9 143.01 1410.7 143.06 1411.6 142.92C1412.4 142.77 1413.3 142.72 1414.1 142.65C1415.0 142.59 1415.8 142.57 1416.7 142.54C1417.5 142.51 1418.4 142.50 1419.2 142.48C1420.1 142.45 1420.9 142.44 1421.8 142.41C1422.6 142.38 1423.4 142.34 1424.3 142.31C1425.1 142.27 1426.0 142.23 1426.8 142.20C1427.7 142.18 1428.5 142.15 1429.4 142.15C1430.2 142.16 1431.1 142.16 1431.9 142.25C1432.8 142.34 1433.6 142.23 1434.5 142.69C1435.3 143.15 1437.0 144.13 1437.0 145.00C1437.0 145.87 1435.3 147.26 1434.5 147.91C1433.6 148.55 1432.8 148.62 1431.9 148.87C1431.1 149.12 1430.2 149.27 1429.4 149.41C1428.5 149.55 1427.7 149.64 1426.8 149.72C1426.0 149.80 1425.1 149.85 1424.3 149.90C1423.4 149.95 1422.6 149.98 1421.8 150.01C1420.9 150.04 1420.1 150.06 1419.2 150.07C1418.4 150.08 1417.5 150.08 1416.7 150.06C1415.8 150.03 1415.0 150.00 1414.1 149.91C1413.3 149.82 1412.4 149.73 1411.6 149.54C1410.7 149.34 1409.9 149.33 1409.0 148.74C1408.2 148.15 1406.5 146.87 1406.5 146.00Z" fill="#0a0a0a"/>
<path d="M1447.5 145.20C1447.5 144.12 1449.3 142.59 1450.2 141.90C1451.2 141.21 1452.1 141.26 1453.0 141.06C1453.9 140.86 1454.8 140.78 1455.8 140.69C1456.7 140.61 1457.6 140.58 1458.5 140.55C1459.4 140.52 1460.3 140.52 1461.2 140.51C1462.2 140.50 1463.1 140.50 1464.0 140.50C1464.9 140.50 1465.8 140.50 1466.8 140.51C1467.7 140.52 1468.6 140.52 1469.5 140.55C1470.4 140.58 1471.3 140.61 1472.2 140.69C1473.2 140.78 1474.1 140.86 1475.0 141.06C1475.9 141.26 1476.8 141.21 1477.8 141.90C1478.7 142.59 1480.5 144.12 1480.5 145.20C1480.5 146.28 1478.7 147.72 1477.8 148.38C1476.8 149.03 1475.9 148.95 1475.0 149.12C1474.1 149.29 1473.2 149.34 1472.2 149.41C1471.3 149.47 1470.4 149.48 1469.5 149.49C1468.6 149.51 1467.7 149.50 1466.8 149.50C1465.8 149.50 1464.9 149.50 1464.0 149.50C1463.1 149.50 1462.2 149.50 1461.2 149.50C1460.3 149.50 1459.4 149.51 1458.5 149.49C1457.6 149.48 1456.7 149.47 1455.8 149.41C1454.8 149.34 1453.9 149.29 1453.0 149.12C1452.1 148.95 1451.2 149.03 1450.2 148.38C1449.3 147.72 1447.5 146.28 1447.5 145.20Z" fill="#0a0a0a"/>
<path d="M1491.5 146.20C1491.5 145.83 1492.9 145.20 1493.5 144.89C1494.2 144.59 1494.9 144.52 1495.6 144.37C1496.3 144.23 1496.9 144.13 1497.6 144.03C1498.3 143.94 1499.0 143.87 1499.7 143.81C1500.3 143.75 1501.0 143.71 1501.7 143.68C1502.4 143.64 1503.1 143.62 1503.8 143.61C1504.4 143.59 1505.1 143.58 1505.8 143.58C1506.5 143.58 1507.2 143.59 1507.8 143.61C1508.5 143.64 1509.2 143.67 1509.9 143.73C1510.6 143.79 1511.2 143.86 1511.9 143.97C1512.6 144.08 1513.3 144.12 1514.0 144.39C1514.6 144.66 1516.0 145.23 1516.0 145.60C1516.0 145.97 1514.6 146.39 1514.0 146.60C1513.3 146.82 1512.6 146.81 1511.9 146.88C1511.2 146.95 1510.6 146.99 1509.9 147.02C1509.2 147.06 1508.5 147.09 1507.8 147.11C1507.2 147.13 1506.5 147.14 1505.8 147.16C1505.1 147.18 1504.4 147.19 1503.8 147.21C1503.1 147.22 1502.4 147.24 1501.7 147.26C1501.0 147.28 1500.3 147.30 1499.7 147.31C1499.0 147.32 1498.3 147.33 1497.6 147.32C1496.9 147.32 1496.3 147.31 1495.6 147.28C1494.9 147.24 1494.2 147.28 1493.5 147.10C1492.9 146.93 1491.5 146.57 1491.5 146.20Z" fill="#484848"/>
<path d="M1495.0 139.00C1495.0 138.65 1496.1 138.08 1496.7 137.80C1497.2 137.52 1497.8 137.46 1498.3 137.32C1498.9 137.18 1499.4 137.07 1500.0 136.97C1500.6 136.87 1501.1 136.79 1501.7 136.71C1502.2 136.62 1502.8 136.56 1503.3 136.49C1503.9 136.42 1504.4 136.36 1505.0 136.30C1505.6 136.24 1506.1 136.18 1506.7 136.12C1507.2 136.07 1507.8 136.01 1508.3 135.97C1508.9 135.93 1509.4 135.89 1510.0 135.87C1510.6 135.85 1511.1 135.83 1511.7 135.85C1512.2 135.87 1512.8 135.81 1513.3 135.97C1513.9 136.13 1515.0 136.45 1515.0 136.80C1515.0 137.15 1513.9 137.76 1513.3 138.06C1512.8 138.36 1512.2 138.44 1511.7 138.59C1511.1 138.75 1510.6 138.87 1510.0 138.98C1509.4 139.09 1508.9 139.18 1508.3 139.27C1507.8 139.36 1507.2 139.43 1506.7 139.51C1506.1 139.58 1505.6 139.64 1505.0 139.70C1504.4 139.76 1503.9 139.82 1503.3 139.87C1502.8 139.92 1502.2 139.97 1501.7 140.01C1501.1 140.04 1500.6 140.07 1500.0 140.08C1499.4 140.09 1498.9 140.09 1498.3 140.06C1497.8 140.03 1497.2 140.07 1496.7 139.89C1496.1 139.71 1495.0 139.35 1495.0 139.00Z" fill="#6a6a6a"/>
<path d="M1532.0 145.80C1532.0 145.26 1533.6 144.64 1534.4 144.34C1535.2 144.04 1536.0 144.07 1536.8 143.99C1537.6 143.90 1538.4 143.87 1539.2 143.83C1540.1 143.79 1540.9 143.78 1541.7 143.76C1542.5 143.74 1543.3 143.74 1544.1 143.73C1544.9 143.72 1545.7 143.71 1546.5 143.69C1547.3 143.67 1548.1 143.65 1548.9 143.63C1549.7 143.61 1550.5 143.58 1551.3 143.56C1552.1 143.54 1552.9 143.52 1553.8 143.53C1554.6 143.53 1555.4 143.53 1556.2 143.59C1557.0 143.64 1557.8 143.57 1558.6 143.84C1559.4 144.11 1561.0 144.66 1561.0 145.20C1561.0 145.74 1559.4 146.65 1558.6 147.08C1557.8 147.51 1557.0 147.59 1556.2 147.78C1555.4 147.97 1554.6 148.09 1553.8 148.21C1552.9 148.32 1552.1 148.40 1551.3 148.47C1550.5 148.54 1549.7 148.58 1548.9 148.62C1548.1 148.65 1547.3 148.67 1546.5 148.69C1545.7 148.71 1544.9 148.72 1544.1 148.72C1543.3 148.71 1542.5 148.70 1541.7 148.67C1540.9 148.63 1540.1 148.59 1539.2 148.51C1538.4 148.43 1537.6 148.33 1536.8 148.18C1536.0 148.03 1535.2 147.98 1534.4 147.58C1533.6 147.19 1532.0 146.34 1532.0 145.80Z" fill="#0a0a0a"/>
<path d="M1535.0 138.00C1535.0 137.69 1536.3 137.23 1537.0 137.01C1537.7 136.78 1538.3 136.74 1539.0 136.65C1539.7 136.55 1540.3 136.48 1541.0 136.42C1541.7 136.36 1542.3 136.32 1543.0 136.28C1543.7 136.24 1544.3 136.21 1545.0 136.18C1545.7 136.16 1546.3 136.14 1547.0 136.12C1547.7 136.11 1548.3 136.09 1549.0 136.08C1549.7 136.08 1550.3 136.07 1551.0 136.08C1551.7 136.08 1552.3 136.09 1553.0 136.12C1553.7 136.15 1554.3 136.18 1555.0 136.25C1555.7 136.31 1556.3 136.31 1557.0 136.51C1557.7 136.70 1559.0 137.09 1559.0 137.40C1559.0 137.71 1557.7 138.14 1557.0 138.35C1556.3 138.56 1555.7 138.58 1555.0 138.67C1554.3 138.75 1553.7 138.81 1553.0 138.86C1552.3 138.92 1551.7 138.95 1551.0 138.99C1550.3 139.02 1549.7 139.05 1549.0 139.07C1548.3 139.09 1547.7 139.11 1547.0 139.12C1546.3 139.14 1545.7 139.16 1545.0 139.17C1544.3 139.18 1543.7 139.19 1543.0 139.19C1542.3 139.19 1541.7 139.18 1541.0 139.16C1540.3 139.14 1539.7 139.12 1539.0 139.07C1538.3 139.02 1537.7 139.03 1537.0 138.85C1536.3 138.67 1535.0 138.31 1535.0 138.00Z" fill="#7a7a7a"/>
<path d="M1573.0 136.60C1573.0 136.15 1573.3 135.61 1573.5 135.35C1573.7 135.09 1573.8 135.10 1574.0 135.02C1574.2 134.95 1574.3 134.92 1574.5 134.89C1574.7 134.86 1574.8 134.86 1575.0 134.86C1575.2 134.87 1575.3 134.89 1575.5 134.91C1575.7 134.93 1575.8 134.97 1576.0 135.00C1576.2 135.03 1576.3 135.07 1576.5 135.11C1576.7 135.15 1576.8 135.20 1577.0 135.26C1577.2 135.33 1577.3 135.40 1577.5 135.49C1577.7 135.58 1577.8 135.68 1578.0 135.82C1578.2 135.97 1578.3 136.02 1578.5 136.35C1578.7 136.68 1579.0 137.35 1579.0 137.80C1579.0 138.25 1578.7 138.79 1578.5 139.05C1578.3 139.31 1578.2 139.30 1578.0 139.38C1577.8 139.45 1577.7 139.48 1577.5 139.51C1577.3 139.54 1577.2 139.54 1577.0 139.54C1576.8 139.53 1576.7 139.51 1576.5 139.49C1576.3 139.47 1576.2 139.43 1576.0 139.40C1575.8 139.37 1575.7 139.33 1575.5 139.29C1575.3 139.25 1575.2 139.20 1575.0 139.14C1574.8 139.07 1574.7 139.00 1574.5 138.91C1574.3 138.82 1574.2 138.72 1574.0 138.58C1573.8 138.43 1573.7 138.38 1573.5 138.05C1573.3 137.72 1573.0 137.05 1573.0 136.60Z" fill="#333"/>
<path d="M1585.0 135.60C1585.0 134.94 1585.7 134.30 1586.1 133.99C1586.4 133.67 1586.8 133.75 1587.2 133.69C1587.5 133.64 1587.9 133.64 1588.2 133.65C1588.6 133.65 1589.0 133.69 1589.3 133.73C1589.7 133.78 1590.1 133.84 1590.4 133.90C1590.8 133.96 1591.1 134.03 1591.5 134.10C1591.9 134.16 1592.2 134.22 1592.6 134.30C1592.9 134.37 1593.3 134.44 1593.7 134.53C1594.0 134.63 1594.4 134.72 1594.8 134.85C1595.1 134.97 1595.5 135.10 1595.8 135.29C1596.2 135.48 1596.6 135.53 1596.9 135.99C1597.3 136.44 1598.0 137.34 1598.0 138.00C1598.0 138.66 1597.3 139.51 1596.9 139.92C1596.6 140.33 1596.2 140.33 1595.8 140.46C1595.5 140.59 1595.1 140.65 1594.8 140.70C1594.4 140.74 1594.0 140.75 1593.7 140.75C1593.3 140.74 1592.9 140.71 1592.6 140.67C1592.2 140.62 1591.9 140.56 1591.5 140.50C1591.1 140.43 1590.8 140.36 1590.4 140.27C1590.1 140.17 1589.7 140.08 1589.3 139.95C1589.0 139.82 1588.6 139.68 1588.2 139.50C1587.9 139.31 1587.5 139.12 1587.2 138.86C1586.8 138.60 1586.4 138.46 1586.1 137.92C1585.7 137.37 1585.0 136.26 1585.0 135.60Z" fill="#222"/>
<path d="M1586.5 144.20C1586.5 143.54 1587.2 142.82 1587.5 142.46C1587.9 142.10 1588.2 142.14 1588.6 142.05C1588.9 141.96 1589.3 141.93 1589.6 141.90C1590.0 141.87 1590.3 141.88 1590.7 141.89C1591.0 141.91 1591.4 141.94 1591.7 141.97C1592.1 142.01 1592.4 142.06 1592.8 142.10C1593.1 142.14 1593.4 142.19 1593.8 142.24C1594.1 142.29 1594.5 142.35 1594.8 142.43C1595.2 142.50 1595.5 142.59 1595.9 142.70C1596.2 142.82 1596.6 142.94 1596.9 143.12C1597.3 143.30 1597.6 143.35 1598.0 143.79C1598.3 144.24 1599.0 145.14 1599.0 145.80C1599.0 146.46 1598.3 147.31 1598.0 147.72C1597.6 148.14 1597.3 148.15 1596.9 148.28C1596.6 148.42 1596.2 148.49 1595.9 148.55C1595.5 148.61 1595.2 148.63 1594.8 148.64C1594.5 148.65 1594.1 148.63 1593.8 148.61C1593.4 148.59 1593.1 148.54 1592.8 148.50C1592.4 148.46 1592.1 148.41 1591.7 148.34C1591.4 148.28 1591.0 148.21 1590.7 148.11C1590.3 148.01 1590.0 147.90 1589.6 147.75C1589.3 147.60 1588.9 147.44 1588.6 147.22C1588.2 146.99 1587.9 146.89 1587.5 146.39C1587.2 145.89 1586.5 144.86 1586.5 144.20Z" fill="#1a1a1a"/>
<path d="M1590.0 140.60C1590.0 140.19 1590.3 139.68 1590.5 139.44C1590.7 139.19 1590.8 139.20 1591.0 139.12C1591.2 139.04 1591.3 139.00 1591.5 138.97C1591.7 138.94 1591.8 138.93 1592.0 138.92C1592.2 138.92 1592.3 138.93 1592.5 138.94C1592.7 138.96 1592.8 138.98 1593.0 139.00C1593.2 139.02 1593.3 139.04 1593.5 139.08C1593.7 139.11 1593.8 139.14 1594.0 139.19C1594.2 139.24 1594.3 139.30 1594.5 139.37C1594.7 139.45 1594.8 139.53 1595.0 139.65C1595.2 139.77 1595.3 139.81 1595.5 140.10C1595.7 140.40 1596.0 140.99 1596.0 141.40C1596.0 141.81 1595.7 142.32 1595.5 142.56C1595.3 142.81 1595.2 142.80 1595.0 142.88C1594.8 142.96 1594.7 143.00 1594.5 143.03C1594.3 143.06 1594.2 143.07 1594.0 143.08C1593.8 143.08 1593.7 143.07 1593.5 143.06C1593.3 143.04 1593.2 143.02 1593.0 143.00C1592.8 142.98 1592.7 142.96 1592.5 142.92C1592.3 142.89 1592.2 142.86 1592.0 142.81C1591.8 142.76 1591.7 142.70 1591.5 142.63C1591.3 142.55 1591.2 142.47 1591.0 142.35C1590.8 142.23 1590.7 142.19 1590.5 141.90C1590.3 141.60 1590.0 141.01 1590.0 140.60Z" fill="#444"/>
<path d="M1616.5 145.20C1616.5 144.68 1618.1 143.94 1619.0 143.59C1619.8 143.24 1620.6 143.22 1621.4 143.10C1622.2 142.97 1623.1 142.90 1623.9 142.83C1624.7 142.76 1625.5 142.72 1626.3 142.69C1627.2 142.65 1628.0 142.64 1628.8 142.62C1629.6 142.61 1630.4 142.60 1631.2 142.60C1632.1 142.59 1632.9 142.59 1633.7 142.59C1634.5 142.59 1635.3 142.60 1636.2 142.62C1637.0 142.64 1637.8 142.67 1638.6 142.73C1639.4 142.79 1640.3 142.85 1641.1 142.96C1641.9 143.08 1642.7 143.09 1643.5 143.43C1644.4 143.77 1646.0 144.48 1646.0 145.00C1646.0 145.52 1644.4 146.21 1643.5 146.54C1642.7 146.88 1641.9 146.88 1641.1 146.99C1640.3 147.10 1639.4 147.16 1638.6 147.22C1637.8 147.28 1637.0 147.30 1636.2 147.33C1635.3 147.36 1634.5 147.37 1633.7 147.38C1632.9 147.39 1632.1 147.39 1631.2 147.40C1630.4 147.40 1629.6 147.41 1628.8 147.41C1628.0 147.41 1627.2 147.41 1626.3 147.40C1625.5 147.38 1624.7 147.36 1623.9 147.32C1623.1 147.27 1622.2 147.22 1621.4 147.12C1620.6 147.02 1619.8 147.03 1619.0 146.71C1618.1 146.39 1616.5 145.72 1616.5 145.20Z" fill="#0a0a0a"/>
<path d="M1656.5 145.00C1656.5 144.08 1658.2 142.93 1659.0 142.39C1659.9 141.85 1660.7 141.91 1661.6 141.76C1662.4 141.62 1663.3 141.56 1664.1 141.51C1665.0 141.45 1665.8 141.44 1666.7 141.42C1667.5 141.41 1668.4 141.41 1669.2 141.41C1670.1 141.40 1670.9 141.41 1671.8 141.40C1672.6 141.40 1673.4 141.38 1674.3 141.37C1675.1 141.37 1676.0 141.35 1676.8 141.36C1677.7 141.36 1678.5 141.36 1679.4 141.41C1680.2 141.45 1681.1 141.49 1681.9 141.63C1682.8 141.77 1683.6 141.69 1684.5 142.22C1685.3 142.75 1687.0 143.88 1687.0 144.80C1687.0 145.72 1685.3 147.08 1684.5 147.72C1683.6 148.35 1682.8 148.37 1681.9 148.59C1681.1 148.82 1680.2 148.93 1679.4 149.05C1678.5 149.16 1677.7 149.22 1676.8 149.27C1676.0 149.32 1675.1 149.35 1674.3 149.37C1673.4 149.39 1672.6 149.40 1671.8 149.40C1670.9 149.41 1670.1 149.41 1669.2 149.40C1668.4 149.39 1667.5 149.38 1666.7 149.34C1665.8 149.29 1665.0 149.25 1664.1 149.15C1663.3 149.04 1662.4 148.94 1661.6 148.73C1660.7 148.52 1659.9 148.51 1659.0 147.88C1658.2 147.26 1656.5 145.92 1656.5 145.00Z" fill="#0a0a0a"/>
<path d="M1699.0 144.80C1699.0 144.28 1700.5 143.60 1701.3 143.27C1702.1 142.94 1702.8 142.94 1703.6 142.83C1704.3 142.71 1705.1 142.65 1705.9 142.60C1706.6 142.54 1707.4 142.51 1708.2 142.48C1708.9 142.45 1709.7 142.44 1710.5 142.42C1711.2 142.41 1712.0 142.40 1712.8 142.39C1713.5 142.38 1714.3 142.36 1715.0 142.36C1715.8 142.35 1716.6 142.34 1717.3 142.35C1718.1 142.35 1718.9 142.36 1719.6 142.40C1720.4 142.43 1721.2 142.47 1721.9 142.56C1722.7 142.65 1723.4 142.63 1724.2 142.93C1725.0 143.24 1726.5 143.88 1726.5 144.40C1726.5 144.92 1725.0 145.68 1724.2 146.05C1723.4 146.41 1722.7 146.45 1721.9 146.59C1721.2 146.73 1720.4 146.81 1719.6 146.89C1718.9 146.97 1718.1 147.01 1717.3 147.06C1716.6 147.10 1715.8 147.12 1715.0 147.15C1714.3 147.17 1713.5 147.18 1712.8 147.19C1712.0 147.20 1711.2 147.21 1710.5 147.21C1709.7 147.21 1708.9 147.21 1708.2 147.19C1707.4 147.17 1706.6 147.14 1705.9 147.09C1705.1 147.03 1704.3 146.97 1703.6 146.85C1702.8 146.73 1702.1 146.72 1701.3 146.38C1700.5 146.04 1699.0 145.32 1699.0 144.80Z" fill="#0a0a0a"/>
<path d="M1738.0 143.80C1738.0 143.41 1739.6 142.91 1740.4 142.66C1741.2 142.41 1742.0 142.40 1742.8 142.31C1743.6 142.22 1744.4 142.16 1745.2 142.11C1746.1 142.06 1746.9 142.02 1747.7 141.99C1748.5 141.96 1749.3 141.95 1750.1 141.93C1750.9 141.91 1751.7 141.90 1752.5 141.89C1753.3 141.88 1754.1 141.87 1754.9 141.86C1755.7 141.86 1756.5 141.85 1757.3 141.86C1758.1 141.87 1758.9 141.88 1759.8 141.91C1760.6 141.94 1761.4 141.97 1762.2 142.04C1763.0 142.11 1763.8 142.10 1764.6 142.33C1765.4 142.55 1767.0 143.01 1767.0 143.40C1767.0 143.79 1765.4 144.38 1764.6 144.66C1763.8 144.94 1763.0 144.99 1762.2 145.11C1761.4 145.23 1760.6 145.31 1759.8 145.38C1758.9 145.45 1758.1 145.51 1757.3 145.55C1756.5 145.59 1755.7 145.62 1754.9 145.65C1754.1 145.67 1753.3 145.68 1752.5 145.69C1751.7 145.70 1750.9 145.71 1750.1 145.71C1749.3 145.71 1748.5 145.70 1747.7 145.68C1746.9 145.66 1746.1 145.63 1745.2 145.58C1744.4 145.53 1743.6 145.47 1742.8 145.37C1742.0 145.28 1741.2 145.26 1740.4 144.99C1739.6 144.73 1738.0 144.19 1738.0 143.80Z" fill="#9c9c9c"/>
<path d="M1779.5 143.20C1779.5 142.59 1781.1 141.83 1781.8 141.46C1782.6 141.10 1783.4 141.12 1784.2 141.02C1784.9 140.92 1785.7 140.88 1786.5 140.85C1787.3 140.82 1788.1 140.82 1788.8 140.83C1789.6 140.84 1790.4 140.87 1791.2 140.91C1791.9 140.94 1792.7 140.98 1793.5 141.03C1794.3 141.07 1795.1 141.12 1795.8 141.17C1796.6 141.23 1797.4 141.29 1798.2 141.37C1798.9 141.45 1799.7 141.53 1800.5 141.65C1801.3 141.77 1802.1 141.90 1802.8 142.09C1803.6 142.28 1804.4 142.35 1805.2 142.80C1805.9 143.25 1807.5 144.19 1807.5 144.80C1807.5 145.41 1805.9 146.10 1805.2 146.43C1804.4 146.76 1803.6 146.71 1802.8 146.79C1802.1 146.86 1801.3 146.88 1800.5 146.89C1799.7 146.90 1798.9 146.88 1798.2 146.86C1797.4 146.84 1796.6 146.80 1795.8 146.76C1795.1 146.72 1794.3 146.67 1793.5 146.63C1792.7 146.58 1791.9 146.54 1791.2 146.49C1790.4 146.44 1789.6 146.40 1788.8 146.33C1788.1 146.26 1787.3 146.19 1786.5 146.09C1785.7 145.99 1784.9 145.89 1784.2 145.72C1783.4 145.55 1782.6 145.52 1781.8 145.10C1781.1 144.68 1779.5 143.81 1779.5 143.20Z" fill="#0a0a0a"/>
<path d="M1818.5 145.60C1818.5 145.12 1820.1 144.55 1820.9 144.28C1821.7 144.00 1822.5 144.02 1823.2 143.94C1824.0 143.85 1824.8 143.81 1825.6 143.77C1826.4 143.73 1827.2 143.71 1828.0 143.69C1828.8 143.67 1829.6 143.66 1830.4 143.65C1831.2 143.63 1832.0 143.62 1832.8 143.61C1833.5 143.59 1834.3 143.57 1835.1 143.55C1835.9 143.53 1836.7 143.50 1837.5 143.49C1838.3 143.48 1839.1 143.46 1839.9 143.47C1840.7 143.48 1841.5 143.48 1842.2 143.54C1843.0 143.59 1843.8 143.53 1844.6 143.78C1845.4 144.02 1847.0 144.52 1847.0 145.00C1847.0 145.48 1845.4 146.26 1844.6 146.63C1843.8 147.00 1843.0 147.07 1842.2 147.23C1841.5 147.39 1840.7 147.49 1839.9 147.59C1839.1 147.68 1838.3 147.75 1837.5 147.81C1836.7 147.87 1835.9 147.90 1835.1 147.94C1834.3 147.97 1833.5 147.99 1832.8 148.01C1832.0 148.02 1831.2 148.04 1830.4 148.04C1829.6 148.04 1828.8 148.03 1828.0 148.01C1827.2 147.98 1826.4 147.95 1825.6 147.89C1824.8 147.82 1824.0 147.75 1823.2 147.63C1822.5 147.50 1821.7 147.47 1820.9 147.13C1820.1 146.79 1818.5 146.08 1818.5 145.60Z" fill="#0a0a0a"/>
<path d="M1821.0 127.80C1821.0 127.45 1822.3 126.94 1822.9 126.69C1823.6 126.45 1824.2 126.42 1824.8 126.32C1825.5 126.22 1826.1 126.15 1826.8 126.10C1827.4 126.04 1828.0 126.00 1828.7 125.97C1829.3 125.94 1829.9 125.93 1830.6 125.91C1831.2 125.90 1831.9 125.90 1832.5 125.90C1833.1 125.90 1833.8 125.90 1834.4 125.91C1835.1 125.93 1835.7 125.94 1836.3 125.97C1837.0 126.00 1837.6 126.04 1838.2 126.10C1838.9 126.15 1839.5 126.22 1840.2 126.32C1840.8 126.42 1841.4 126.45 1842.1 126.69C1842.7 126.94 1844.0 127.45 1844.0 127.80C1844.0 128.15 1842.7 128.57 1842.1 128.78C1841.4 128.99 1840.8 128.99 1840.2 129.06C1839.5 129.13 1838.9 129.17 1838.2 129.20C1837.6 129.24 1837.0 129.26 1836.3 129.27C1835.7 129.29 1835.1 129.29 1834.4 129.30C1833.8 129.30 1833.1 129.30 1832.5 129.30C1831.9 129.30 1831.2 129.30 1830.6 129.30C1829.9 129.29 1829.3 129.29 1828.7 129.27C1828.0 129.26 1827.4 129.24 1826.8 129.20C1826.1 129.17 1825.5 129.13 1824.8 129.06C1824.2 128.99 1823.6 128.99 1822.9 128.78C1822.3 128.57 1821.0 128.15 1821.0 127.80Z" fill="#666"/>
<path d="M1857.5 137.60C1857.5 136.86 1859.0 136.06 1859.8 135.66C1860.6 135.27 1861.3 135.33 1862.1 135.23C1862.8 135.14 1863.6 135.10 1864.4 135.07C1865.1 135.03 1865.9 135.03 1866.7 135.02C1867.4 135.01 1868.2 135.01 1869.0 135.01C1869.7 135.01 1870.5 135.01 1871.2 135.00C1872.0 134.99 1872.8 134.96 1873.5 134.94C1874.3 134.92 1875.1 134.90 1875.8 134.88C1876.6 134.87 1877.4 134.85 1878.1 134.87C1878.9 134.88 1879.7 134.89 1880.4 134.97C1881.2 135.05 1881.9 134.96 1882.7 135.33C1883.5 135.70 1885.0 136.46 1885.0 137.20C1885.0 137.94 1883.5 139.17 1882.7 139.74C1881.9 140.32 1881.2 140.43 1880.4 140.67C1879.7 140.92 1878.9 141.08 1878.1 141.23C1877.4 141.38 1876.6 141.47 1875.8 141.56C1875.1 141.64 1874.3 141.69 1873.5 141.73C1872.8 141.77 1872.0 141.79 1871.2 141.80C1870.5 141.81 1869.7 141.81 1869.0 141.79C1868.2 141.78 1867.4 141.75 1866.7 141.69C1865.9 141.63 1865.1 141.55 1864.4 141.43C1863.6 141.30 1862.8 141.16 1862.1 140.94C1861.3 140.71 1860.6 140.63 1859.8 140.08C1859.0 139.52 1857.5 138.34 1857.5 137.60Z" fill="#222"/>
<path d="M1857.5 145.40C1857.5 144.71 1859.0 143.92 1859.8 143.53C1860.6 143.15 1861.3 143.20 1862.1 143.09C1862.8 142.99 1863.6 142.95 1864.4 142.90C1865.1 142.86 1865.9 142.85 1866.7 142.83C1867.4 142.82 1868.2 142.82 1869.0 142.82C1869.7 142.81 1870.5 142.81 1871.2 142.80C1872.0 142.79 1872.8 142.76 1873.5 142.75C1874.3 142.73 1875.1 142.71 1875.8 142.70C1876.6 142.69 1877.4 142.68 1878.1 142.70C1878.9 142.72 1879.7 142.74 1880.4 142.82C1881.2 142.91 1881.9 142.84 1882.7 143.20C1883.5 143.56 1885.0 144.31 1885.0 145.00C1885.0 145.69 1883.5 146.82 1882.7 147.35C1881.9 147.89 1881.2 147.97 1880.4 148.19C1879.7 148.42 1878.9 148.56 1878.1 148.69C1877.4 148.82 1876.6 148.91 1875.8 148.98C1875.1 149.06 1874.3 149.10 1873.5 149.13C1872.8 149.17 1872.0 149.19 1871.2 149.20C1870.5 149.21 1869.7 149.21 1869.0 149.20C1868.2 149.19 1867.4 149.17 1866.7 149.11C1865.9 149.06 1865.1 149.00 1864.4 148.89C1863.6 148.78 1862.8 148.66 1862.1 148.46C1861.3 148.26 1860.6 148.20 1859.8 147.69C1859.0 147.18 1857.5 146.09 1857.5 145.40Z" fill="#0a0a0a"/>
<path d="M1864.0 141.40C1864.0 140.79 1864.8 139.99 1865.2 139.61C1865.7 139.22 1866.1 139.21 1866.5 139.07C1866.9 138.94 1867.3 138.86 1867.8 138.79C1868.2 138.72 1868.6 138.68 1869.0 138.65C1869.4 138.62 1869.8 138.61 1870.2 138.60C1870.7 138.59 1871.1 138.60 1871.5 138.61C1871.9 138.61 1872.3 138.62 1872.8 138.64C1873.2 138.65 1873.6 138.67 1874.0 138.72C1874.4 138.76 1874.8 138.81 1875.2 138.89C1875.7 138.97 1876.1 139.06 1876.5 139.20C1876.9 139.35 1877.3 139.37 1877.8 139.77C1878.2 140.17 1879.0 140.99 1879.0 141.60C1879.0 142.21 1878.2 143.05 1877.8 143.46C1877.3 143.87 1876.9 143.90 1876.5 144.05C1876.1 144.20 1875.7 144.29 1875.2 144.37C1874.8 144.45 1874.4 144.50 1874.0 144.54C1873.6 144.58 1873.2 144.60 1872.8 144.61C1872.3 144.62 1871.9 144.61 1871.5 144.61C1871.1 144.60 1870.7 144.60 1870.2 144.57C1869.8 144.55 1869.4 144.52 1869.0 144.47C1868.6 144.42 1868.2 144.37 1867.8 144.27C1867.3 144.18 1866.9 144.08 1866.5 143.91C1866.1 143.75 1865.7 143.71 1865.2 143.29C1864.8 142.87 1864.0 142.01 1864.0 141.40Z" fill="#383838"/>
<path d="M1896.5 145.20C1896.5 144.79 1897.5 144.23 1898.0 143.95C1898.6 143.68 1899.1 143.65 1899.6 143.55C1900.1 143.44 1900.6 143.37 1901.1 143.30C1901.6 143.24 1902.2 143.19 1902.7 143.15C1903.2 143.11 1903.7 143.09 1904.2 143.06C1904.7 143.04 1905.2 143.02 1905.8 143.01C1906.3 142.99 1906.8 142.97 1907.3 142.96C1907.8 142.96 1908.3 142.95 1908.8 142.95C1909.3 142.96 1909.9 142.97 1910.4 143.00C1910.9 143.04 1911.4 143.07 1911.9 143.15C1912.4 143.22 1912.9 143.21 1913.5 143.45C1914.0 143.70 1915.0 144.19 1915.0 144.60C1915.0 145.01 1914.0 145.62 1913.5 145.91C1912.9 146.21 1912.4 146.25 1911.9 146.37C1911.4 146.50 1910.9 146.58 1910.4 146.66C1909.9 146.74 1909.3 146.79 1908.8 146.84C1908.3 146.89 1907.8 146.92 1907.3 146.95C1906.8 146.97 1906.3 146.99 1905.8 147.01C1905.2 147.02 1904.7 147.04 1904.2 147.05C1903.7 147.05 1903.2 147.05 1902.7 147.04C1902.2 147.02 1901.6 147.00 1901.1 146.96C1900.6 146.91 1900.1 146.87 1899.6 146.77C1899.1 146.68 1898.6 146.67 1898.0 146.41C1897.5 146.15 1896.5 145.61 1896.5 145.20Z" fill="#0a0a0a"/>
<path d="M1912.0 144.80C1912.0 144.60 1912.7 144.37 1913.1 144.26C1913.4 144.15 1913.8 144.17 1914.2 144.14C1914.5 144.12 1914.9 144.11 1915.2 144.11C1915.6 144.11 1916.0 144.11 1916.3 144.12C1916.7 144.13 1917.1 144.15 1917.4 144.17C1917.8 144.19 1918.1 144.21 1918.5 144.23C1918.9 144.25 1919.2 144.28 1919.6 144.30C1919.9 144.33 1920.3 144.36 1920.7 144.39C1921.0 144.42 1921.4 144.46 1921.8 144.51C1922.1 144.56 1922.5 144.61 1922.8 144.68C1923.2 144.75 1923.6 144.77 1923.9 144.93C1924.3 145.08 1925.0 145.40 1925.0 145.60C1925.0 145.80 1924.3 146.04 1923.9 146.16C1923.6 146.27 1923.2 146.26 1922.8 146.29C1922.5 146.32 1922.1 146.33 1921.8 146.34C1921.4 146.34 1921.0 146.34 1920.7 146.33C1920.3 146.32 1919.9 146.31 1919.6 146.29C1919.2 146.28 1918.9 146.25 1918.5 146.23C1918.1 146.21 1917.8 146.19 1917.4 146.16C1917.1 146.13 1916.7 146.10 1916.3 146.07C1916.0 146.03 1915.6 145.99 1915.2 145.94C1914.9 145.89 1914.5 145.83 1914.2 145.76C1913.8 145.68 1913.4 145.65 1913.1 145.49C1912.7 145.33 1912.0 145.00 1912.0 144.80Z" fill="#999"/>
<path d="M1356.5 188.20C1356.5 187.31 1359.0 186.27 1360.3 185.80C1361.6 185.33 1362.8 185.45 1364.1 185.37C1365.3 185.28 1366.6 185.29 1367.9 185.29C1369.1 185.28 1370.4 185.31 1371.7 185.34C1372.9 185.36 1374.2 185.40 1375.5 185.42C1376.7 185.45 1378.0 185.47 1379.2 185.49C1380.5 185.51 1381.8 185.52 1383.0 185.52C1384.3 185.53 1385.6 185.53 1386.8 185.54C1388.1 185.55 1389.4 185.55 1390.6 185.59C1391.9 185.62 1393.2 185.65 1394.4 185.77C1395.7 185.89 1396.9 185.79 1398.2 186.30C1399.5 186.80 1402.0 187.91 1402.0 188.80C1402.0 189.69 1399.5 191.02 1398.2 191.62C1396.9 192.22 1395.7 192.21 1394.4 192.40C1393.2 192.59 1391.9 192.67 1390.6 192.75C1389.4 192.83 1388.1 192.86 1386.8 192.89C1385.6 192.92 1384.3 192.92 1383.0 192.92C1381.8 192.92 1380.5 192.91 1379.2 192.89C1378.0 192.87 1376.7 192.85 1375.5 192.82C1374.2 192.79 1372.9 192.75 1371.7 192.69C1370.4 192.63 1369.1 192.57 1367.9 192.45C1366.6 192.34 1365.3 192.22 1364.1 192.00C1362.8 191.78 1361.6 191.76 1360.3 191.12C1359.0 190.49 1356.5 189.09 1356.5 188.20Z" fill="#0a0a0a"/>
<path d="M1401.0 189.00C1401.0 188.23 1403.3 187.32 1404.4 186.91C1405.6 186.49 1406.7 186.59 1407.8 186.51C1409.0 186.42 1410.1 186.41 1411.2 186.39C1412.4 186.37 1413.5 186.39 1414.7 186.39C1415.8 186.39 1416.9 186.40 1418.1 186.40C1419.2 186.40 1420.4 186.40 1421.5 186.39C1422.6 186.38 1423.8 186.36 1424.9 186.34C1426.1 186.31 1427.2 186.28 1428.3 186.26C1429.5 186.23 1430.6 186.20 1431.8 186.19C1432.9 186.19 1434.0 186.18 1435.2 186.24C1436.3 186.30 1437.4 186.18 1438.6 186.57C1439.7 186.97 1442.0 187.83 1442.0 188.60C1442.0 189.37 1439.7 190.62 1438.6 191.18C1437.4 191.74 1436.3 191.77 1435.2 191.97C1434.0 192.17 1432.9 192.28 1431.8 192.39C1430.6 192.50 1429.5 192.56 1428.3 192.62C1427.2 192.67 1426.1 192.70 1424.9 192.73C1423.8 192.76 1422.6 192.78 1421.5 192.79C1420.4 192.80 1419.2 192.81 1418.1 192.80C1416.9 192.79 1415.8 192.78 1414.7 192.75C1413.5 192.71 1412.4 192.68 1411.2 192.59C1410.1 192.51 1409.0 192.42 1407.8 192.24C1406.7 192.06 1405.6 192.05 1404.4 191.51C1403.3 190.97 1401.0 189.77 1401.0 189.00Z" fill="#0a0a0a"/>
<path d="M1444.0 188.40C1444.0 187.63 1446.2 186.70 1447.2 186.28C1448.3 185.86 1449.4 185.96 1450.5 185.87C1451.6 185.78 1452.7 185.77 1453.8 185.75C1454.8 185.73 1455.9 185.75 1457.0 185.75C1458.1 185.76 1459.2 185.78 1460.2 185.78C1461.3 185.79 1462.4 185.80 1463.5 185.80C1464.6 185.80 1465.7 185.79 1466.8 185.78C1467.8 185.78 1468.9 185.76 1470.0 185.75C1471.1 185.75 1472.2 185.73 1473.2 185.75C1474.3 185.77 1475.4 185.78 1476.5 185.87C1477.6 185.96 1478.7 185.86 1479.8 186.28C1480.8 186.70 1483.0 187.63 1483.0 188.40C1483.0 189.17 1480.8 190.35 1479.8 190.89C1478.7 191.42 1477.6 191.42 1476.5 191.60C1475.4 191.78 1474.3 191.86 1473.2 191.95C1472.2 192.03 1471.1 192.07 1470.0 192.11C1468.9 192.15 1467.8 192.17 1466.8 192.18C1465.7 192.20 1464.6 192.20 1463.5 192.20C1462.4 192.20 1461.3 192.20 1460.2 192.18C1459.2 192.17 1458.1 192.15 1457.0 192.11C1455.9 192.07 1454.8 192.03 1453.8 191.95C1452.7 191.86 1451.6 191.78 1450.5 191.60C1449.4 191.42 1448.3 191.42 1447.2 190.89C1446.2 190.35 1444.0 189.17 1444.0 188.40Z" fill="#0a0a0a"/>
<path d="M1484.0 188.20C1484.0 187.50 1486.2 186.67 1487.2 186.30C1488.3 185.92 1489.4 186.01 1490.5 185.94C1491.6 185.86 1492.7 185.86 1493.8 185.84C1494.8 185.83 1495.9 185.84 1497.0 185.85C1498.1 185.86 1499.2 185.88 1500.2 185.88C1501.3 185.89 1502.4 185.90 1503.5 185.90C1504.6 185.90 1505.7 185.89 1506.8 185.88C1507.8 185.88 1508.9 185.86 1510.0 185.85C1511.1 185.84 1512.2 185.83 1513.2 185.84C1514.3 185.86 1515.4 185.86 1516.5 185.94C1517.6 186.01 1518.7 185.92 1519.8 186.30C1520.8 186.67 1523.0 187.50 1523.0 188.20C1523.0 188.90 1520.8 189.98 1519.8 190.47C1518.7 190.96 1517.6 190.97 1516.5 191.13C1515.4 191.30 1514.3 191.38 1513.2 191.46C1512.2 191.54 1511.1 191.58 1510.0 191.62C1508.9 191.65 1507.8 191.67 1506.8 191.68C1505.7 191.70 1504.6 191.70 1503.5 191.70C1502.4 191.70 1501.3 191.70 1500.2 191.68C1499.2 191.67 1498.1 191.65 1497.0 191.62C1495.9 191.58 1494.8 191.54 1493.8 191.46C1492.7 191.38 1491.6 191.30 1490.5 191.13C1489.4 190.97 1488.3 190.96 1487.2 190.47C1486.2 189.98 1484.0 188.90 1484.0 188.20Z" fill="#0a0a0a"/>
<path d="M1526.0 188.40C1526.0 187.70 1528.2 186.86 1529.3 186.48C1530.4 186.09 1531.6 186.18 1532.7 186.09C1533.8 186.01 1534.9 185.99 1536.0 185.97C1537.1 185.94 1538.2 185.95 1539.3 185.94C1540.4 185.93 1541.6 185.94 1542.7 185.93C1543.8 185.92 1544.9 185.92 1546.0 185.90C1547.1 185.88 1548.2 185.86 1549.3 185.83C1550.4 185.81 1551.6 185.77 1552.7 185.74C1553.8 185.71 1554.9 185.68 1556.0 185.67C1557.1 185.66 1558.2 185.64 1559.3 185.69C1560.4 185.74 1561.6 185.63 1562.7 185.98C1563.8 186.33 1566.0 187.10 1566.0 187.80C1566.0 188.50 1563.8 189.64 1562.7 190.15C1561.6 190.67 1560.4 190.70 1559.3 190.89C1558.2 191.08 1557.1 191.18 1556.0 191.28C1554.9 191.39 1553.8 191.45 1552.7 191.50C1551.6 191.56 1550.4 191.60 1549.3 191.63C1548.2 191.66 1547.1 191.68 1546.0 191.70C1544.9 191.72 1543.8 191.73 1542.7 191.73C1541.6 191.73 1540.4 191.73 1539.3 191.70C1538.2 191.68 1537.1 191.65 1536.0 191.58C1534.9 191.51 1533.8 191.44 1532.7 191.29C1531.6 191.13 1530.4 191.13 1529.3 190.65C1528.2 190.17 1526.0 189.10 1526.0 188.40Z" fill="#0a0a0a"/>
<path d="M1565.0 188.00C1565.0 187.62 1565.8 187.12 1566.2 186.90C1566.7 186.67 1567.1 186.71 1567.5 186.66C1567.9 186.61 1568.3 186.60 1568.8 186.58C1569.2 186.57 1569.6 186.57 1570.0 186.57C1570.4 186.57 1570.8 186.58 1571.2 186.59C1571.7 186.59 1572.1 186.60 1572.5 186.61C1572.9 186.61 1573.3 186.62 1573.8 186.62C1574.2 186.63 1574.6 186.63 1575.0 186.64C1575.4 186.65 1575.8 186.66 1576.2 186.68C1576.7 186.71 1577.1 186.73 1577.5 186.79C1577.9 186.86 1578.3 186.83 1578.8 187.06C1579.2 187.30 1580.0 187.82 1580.0 188.20C1580.0 188.58 1579.2 189.12 1578.8 189.37C1578.3 189.61 1577.9 189.59 1577.5 189.66C1577.1 189.73 1576.7 189.75 1576.2 189.78C1575.8 189.81 1575.4 189.81 1575.0 189.82C1574.6 189.83 1574.2 189.82 1573.8 189.82C1573.3 189.82 1572.9 189.81 1572.5 189.81C1572.1 189.80 1571.7 189.80 1571.2 189.79C1570.8 189.78 1570.4 189.77 1570.0 189.75C1569.6 189.73 1569.2 189.72 1568.8 189.68C1568.3 189.64 1567.9 189.61 1567.5 189.53C1567.1 189.45 1566.7 189.46 1566.2 189.20C1565.8 188.95 1565.0 188.38 1565.0 188.00Z" fill="#0a0a0a"/>
<path d="M1581.0 187.40C1581.0 186.70 1582.6 185.83 1583.4 185.44C1584.2 185.04 1585.0 185.12 1585.8 185.04C1586.6 184.95 1587.4 184.95 1588.2 184.93C1589.1 184.92 1589.9 184.94 1590.7 184.95C1591.5 184.96 1592.3 184.99 1593.1 185.02C1593.9 185.04 1594.7 185.06 1595.5 185.09C1596.3 185.11 1597.1 185.13 1597.9 185.15C1598.7 185.17 1599.5 185.19 1600.3 185.22C1601.1 185.25 1601.9 185.27 1602.8 185.33C1603.6 185.39 1604.4 185.44 1605.2 185.57C1606.0 185.70 1606.8 185.67 1607.6 186.10C1608.4 186.54 1610.0 187.50 1610.0 188.20C1610.0 188.90 1608.4 189.85 1607.6 190.28C1606.8 190.70 1606.0 190.66 1605.2 190.77C1604.4 190.88 1603.6 190.91 1602.8 190.95C1601.9 190.98 1601.1 190.98 1600.3 190.98C1599.5 190.98 1598.7 190.96 1597.9 190.95C1597.1 190.93 1596.3 190.91 1595.5 190.89C1594.7 190.86 1593.9 190.84 1593.1 190.81C1592.3 190.78 1591.5 190.76 1590.7 190.71C1589.9 190.67 1589.1 190.63 1588.2 190.55C1587.4 190.47 1586.6 190.39 1585.8 190.23C1585.0 190.08 1584.2 190.08 1583.4 189.61C1582.6 189.14 1581.0 188.10 1581.0 187.40Z" fill="#0a0a0a"/>
<path d="M1608.0 188.00C1608.0 187.30 1610.4 186.41 1611.6 186.01C1612.8 185.61 1614.0 185.68 1615.2 185.59C1616.4 185.50 1617.6 185.48 1618.8 185.45C1619.9 185.43 1621.1 185.44 1622.3 185.44C1623.5 185.45 1624.7 185.46 1625.9 185.48C1627.1 185.49 1628.3 185.50 1629.5 185.52C1630.7 185.53 1631.9 185.53 1633.1 185.54C1634.3 185.55 1635.5 185.56 1636.7 185.58C1637.9 185.59 1639.1 185.61 1640.2 185.65C1641.4 185.70 1642.6 185.74 1643.8 185.85C1645.0 185.97 1646.2 185.92 1647.4 186.35C1648.6 186.77 1651.0 187.70 1651.0 188.40C1651.0 189.10 1648.6 190.08 1647.4 190.52C1646.2 190.96 1645.0 190.93 1643.8 191.05C1642.6 191.18 1641.4 191.22 1640.2 191.27C1639.1 191.32 1637.9 191.33 1636.7 191.34C1635.5 191.35 1634.3 191.35 1633.1 191.34C1631.9 191.34 1630.7 191.33 1629.5 191.32C1628.3 191.30 1627.1 191.29 1625.9 191.27C1624.7 191.26 1623.5 191.24 1622.3 191.21C1621.1 191.17 1619.9 191.14 1618.8 191.07C1617.6 191.00 1616.4 190.93 1615.2 190.78C1614.0 190.64 1612.8 190.65 1611.6 190.19C1610.4 189.72 1608.0 188.70 1608.0 188.00Z" fill="#0a0a0a"/>
<path d="M1650.0 188.20C1650.0 187.50 1652.2 186.64 1653.3 186.25C1654.4 185.86 1655.6 185.94 1656.7 185.85C1657.8 185.76 1658.9 185.74 1660.0 185.72C1661.1 185.69 1662.2 185.70 1663.3 185.70C1664.4 185.69 1665.6 185.70 1666.7 185.70C1667.8 185.70 1668.9 185.71 1670.0 185.70C1671.1 185.69 1672.2 185.68 1673.3 185.67C1674.4 185.66 1675.6 185.64 1676.7 185.63C1677.8 185.62 1678.9 185.60 1680.0 185.62C1681.1 185.63 1682.2 185.64 1683.3 185.71C1684.4 185.79 1685.6 185.70 1686.7 186.08C1687.8 186.46 1690.0 187.30 1690.0 188.00C1690.0 188.70 1687.8 189.77 1686.7 190.26C1685.6 190.74 1684.4 190.75 1683.3 190.91C1682.2 191.07 1681.1 191.15 1680.0 191.23C1678.9 191.31 1677.8 191.35 1676.7 191.39C1675.6 191.43 1674.4 191.45 1673.3 191.47C1672.2 191.49 1671.1 191.49 1670.0 191.50C1668.9 191.51 1667.8 191.51 1666.7 191.50C1665.6 191.49 1664.4 191.49 1663.3 191.46C1662.2 191.43 1661.1 191.40 1660.0 191.33C1658.9 191.26 1657.8 191.19 1656.7 191.04C1655.6 190.89 1654.4 190.90 1653.3 190.42C1652.2 189.95 1650.0 188.90 1650.0 188.20Z" fill="#0a0a0a"/>
<path d="M1691.0 187.60C1691.0 186.93 1693.2 186.10 1694.3 185.72C1695.4 185.35 1696.6 185.42 1697.7 185.34C1698.8 185.26 1699.9 185.24 1701.0 185.22C1702.1 185.20 1703.2 185.20 1704.3 185.20C1705.4 185.20 1706.6 185.21 1707.7 185.21C1708.8 185.21 1709.9 185.21 1711.0 185.21C1712.1 185.20 1713.2 185.19 1714.3 185.18C1715.4 185.16 1716.6 185.14 1717.7 185.13C1718.8 185.12 1719.9 185.11 1721.0 185.12C1722.1 185.13 1723.2 185.13 1724.3 185.21C1725.4 185.28 1726.6 185.19 1727.7 185.56C1728.8 185.92 1731.0 186.73 1731.0 187.40C1731.0 188.07 1728.8 189.12 1727.7 189.59C1726.6 190.06 1725.4 190.06 1724.3 190.22C1723.2 190.38 1722.1 190.46 1721.0 190.54C1719.9 190.62 1718.8 190.66 1717.7 190.70C1716.6 190.74 1715.4 190.76 1714.3 190.77C1713.2 190.79 1712.1 190.80 1711.0 190.81C1709.9 190.81 1708.8 190.81 1707.7 190.81C1706.6 190.80 1705.4 190.79 1704.3 190.77C1703.2 190.74 1702.1 190.71 1701.0 190.64C1699.9 190.57 1698.8 190.50 1697.7 190.36C1696.6 190.21 1695.4 190.21 1694.3 189.75C1693.2 189.29 1691.0 188.27 1691.0 187.60Z" fill="#0a0a0a"/>
<path d="M1733.0 186.60C1733.0 185.90 1735.2 184.89 1736.2 184.43C1737.3 183.98 1738.4 184.00 1739.5 183.87C1740.6 183.74 1741.7 183.69 1742.8 183.64C1743.8 183.59 1744.9 183.58 1746.0 183.57C1747.1 183.56 1748.2 183.58 1749.2 183.59C1750.3 183.61 1751.4 183.63 1752.5 183.66C1753.6 183.69 1754.7 183.72 1755.8 183.76C1756.8 183.80 1757.9 183.84 1759.0 183.90C1760.1 183.97 1761.2 184.03 1762.2 184.14C1763.3 184.24 1764.4 184.35 1765.5 184.53C1766.6 184.72 1767.7 184.75 1768.8 185.26C1769.8 185.78 1772.0 186.90 1772.0 187.60C1772.0 188.30 1769.8 189.08 1768.8 189.44C1767.7 189.79 1766.6 189.68 1765.5 189.73C1764.4 189.78 1763.3 189.76 1762.2 189.75C1761.2 189.74 1760.1 189.70 1759.0 189.67C1757.9 189.63 1756.8 189.59 1755.8 189.56C1754.7 189.52 1753.6 189.49 1752.5 189.46C1751.4 189.43 1750.3 189.41 1749.2 189.39C1748.2 189.37 1747.1 189.36 1746.0 189.33C1744.9 189.31 1743.8 189.30 1742.8 189.25C1741.7 189.21 1740.6 189.17 1739.5 189.06C1738.4 188.96 1737.3 189.02 1736.2 188.60C1735.2 188.19 1733.0 187.30 1733.0 186.60Z" fill="#0a0a0a"/>
<path d="M1773.0 188.00C1773.0 187.28 1775.2 186.48 1776.2 186.12C1777.3 185.75 1778.4 185.87 1779.5 185.82C1780.6 185.76 1781.7 185.78 1782.8 185.79C1783.8 185.79 1784.9 185.83 1786.0 185.85C1787.1 185.88 1788.2 185.91 1789.2 185.94C1790.3 185.96 1791.4 185.98 1792.5 185.99C1793.6 186.00 1794.7 186.00 1795.8 186.00C1796.8 186.00 1797.9 185.99 1799.0 185.99C1800.1 185.98 1801.2 185.97 1802.2 185.99C1803.3 186.00 1804.4 186.01 1805.5 186.08C1806.6 186.16 1807.7 186.06 1808.8 186.45C1809.8 186.84 1812.0 187.68 1812.0 188.40C1812.0 189.12 1809.8 190.26 1808.8 190.77C1807.7 191.28 1806.6 191.29 1805.5 191.46C1804.4 191.63 1803.3 191.71 1802.2 191.80C1801.2 191.88 1800.1 191.92 1799.0 191.95C1797.9 191.98 1796.8 191.99 1795.8 192.00C1794.7 192.01 1793.6 192.00 1792.5 191.99C1791.4 191.98 1790.3 191.96 1789.2 191.93C1788.2 191.90 1787.1 191.87 1786.0 191.82C1784.9 191.76 1783.8 191.70 1782.8 191.60C1781.7 191.49 1780.6 191.39 1779.5 191.19C1778.4 191.00 1777.3 190.97 1776.2 190.43C1775.2 189.90 1773.0 188.72 1773.0 188.00Z" fill="#0a0a0a"/>
<path d="M1813.0 188.60C1813.0 187.81 1815.2 186.81 1816.3 186.36C1817.4 185.91 1818.6 186.00 1819.7 185.90C1820.8 185.80 1821.9 185.79 1823.0 185.77C1824.1 185.75 1825.2 185.76 1826.3 185.77C1827.4 185.78 1828.6 185.81 1829.7 185.83C1830.8 185.85 1831.9 185.87 1833.0 185.89C1834.1 185.90 1835.2 185.91 1836.3 185.93C1837.4 185.94 1838.6 185.95 1839.7 185.97C1840.8 186.00 1841.9 186.01 1843.0 186.07C1844.1 186.12 1845.2 186.17 1846.3 186.30C1847.4 186.43 1848.6 186.38 1849.7 186.86C1850.8 187.35 1853.0 188.41 1853.0 189.20C1853.0 189.99 1850.8 191.11 1849.7 191.61C1848.6 192.11 1847.4 192.07 1846.3 192.21C1845.2 192.36 1844.1 192.41 1843.0 192.46C1841.9 192.51 1840.8 192.52 1839.7 192.53C1838.6 192.54 1837.4 192.53 1836.3 192.53C1835.2 192.52 1834.1 192.50 1833.0 192.49C1831.9 192.47 1830.8 192.45 1829.7 192.43C1828.6 192.40 1827.4 192.38 1826.3 192.33C1825.2 192.29 1824.1 192.25 1823.0 192.16C1821.9 192.07 1820.8 191.99 1819.7 191.81C1818.6 191.64 1817.4 191.65 1816.3 191.11C1815.2 190.58 1813.0 189.39 1813.0 188.60Z" fill="#0a0a0a"/>
<path d="M1851.0 189.60C1851.0 188.78 1853.3 187.83 1854.4 187.40C1855.6 186.96 1856.7 187.08 1857.8 187.00C1859.0 186.92 1860.1 186.92 1861.2 186.91C1862.4 186.90 1863.5 186.92 1864.7 186.93C1865.8 186.94 1866.9 186.97 1868.1 186.98C1869.2 186.99 1870.4 187.00 1871.5 187.00C1872.6 187.00 1873.8 186.99 1874.9 186.98C1876.1 186.97 1877.2 186.94 1878.3 186.93C1879.5 186.92 1880.6 186.90 1881.8 186.91C1882.9 186.92 1884.0 186.92 1885.2 187.00C1886.3 187.08 1887.4 186.96 1888.6 187.40C1889.7 187.83 1892.0 188.78 1892.0 189.60C1892.0 190.42 1889.7 191.71 1888.6 192.29C1887.4 192.87 1886.3 192.89 1885.2 193.09C1884.0 193.29 1882.9 193.39 1881.8 193.49C1880.6 193.59 1879.5 193.64 1878.3 193.69C1877.2 193.74 1876.1 193.76 1874.9 193.78C1873.8 193.80 1872.6 193.80 1871.5 193.80C1870.4 193.80 1869.2 193.80 1868.1 193.78C1866.9 193.76 1865.8 193.74 1864.7 193.69C1863.5 193.64 1862.4 193.59 1861.2 193.49C1860.1 193.39 1859.0 193.29 1857.8 193.09C1856.7 192.89 1855.6 192.87 1854.4 192.29C1853.3 191.71 1851.0 190.42 1851.0 189.60Z" fill="#0a0a0a"/>
<path d="M1891.0 189.40C1891.0 188.61 1893.6 187.61 1895.0 187.15C1896.3 186.69 1897.6 186.77 1898.9 186.66C1900.2 186.54 1901.6 186.51 1902.9 186.47C1904.2 186.42 1905.5 186.42 1906.8 186.40C1908.2 186.38 1909.5 186.37 1910.8 186.35C1912.1 186.33 1913.4 186.31 1914.8 186.28C1916.1 186.26 1917.4 186.22 1918.7 186.18C1920.0 186.15 1921.3 186.10 1922.7 186.06C1924.0 186.03 1925.3 185.98 1926.6 185.97C1927.9 185.96 1929.3 185.93 1930.6 185.99C1931.9 186.05 1933.2 185.92 1934.5 186.32C1935.9 186.72 1938.5 187.61 1938.5 188.40C1938.5 189.19 1935.9 190.48 1934.5 191.07C1933.2 191.65 1931.9 191.69 1930.6 191.90C1929.3 192.12 1927.9 192.24 1926.6 192.36C1925.3 192.48 1924.0 192.55 1922.7 192.62C1921.3 192.69 1920.0 192.74 1918.7 192.78C1917.4 192.83 1916.1 192.86 1914.8 192.88C1913.4 192.91 1912.1 192.94 1910.8 192.95C1909.5 192.96 1908.2 192.97 1906.8 192.96C1905.5 192.94 1904.2 192.92 1902.9 192.86C1901.6 192.79 1900.2 192.73 1898.9 192.57C1897.6 192.41 1896.3 192.43 1895.0 191.90C1893.6 191.37 1891.0 190.19 1891.0 189.40Z" fill="#0a0a0a"/>
<path d="M1360 188.4L1600 188L1770 187.6L1935 188.8" fill="none" stroke="#1a1a1a" stroke-width="2.2"/>
</g>
<g filter="url(#bl2)" opacity="0.18">
<rect x="1366" y="199.6" width="32" height="2.4" fill="#ddd"/>
<rect x="1408" y="199.6" width="28" height="2.4" fill="#ddd"/>
<rect x="1448" y="199.6" width="32" height="2.4" fill="#ddd"/>
<rect x="1490" y="199.6" width="30" height="2.4" fill="#ddd"/>
<rect x="1530" y="199.6" width="32" height="2.4" fill="#ddd"/>
<rect x="1584" y="199.6" width="20" height="2.4" fill="#ddd"/>
<rect x="1660" y="199.6" width="26" height="2.4" fill="#ddd"/>
<rect x="1700" y="199.6" width="24" height="2.4" fill="#ddd"/>
<rect x="1780" y="199.6" width="26" height="2.4" fill="#ddd"/>
</g>
</g>
<rect x="357.00" y="430.50" width="52.20" height="298.95" fill="#fff" stroke="#0e0a16" stroke-width="1.4"/>
<line x1="356.25" y1="430.50" x2="409.95" y2="430.50" stroke="#0e0a16" stroke-width="2.6"/>
<rect x="409.20" y="485.30" width="52.00" height="244.15" fill="#848484" stroke="#0e0a16" stroke-width="1.6"/>
<rect x="587.00" y="503.25" width="51.90" height="226.20" fill="#fff" stroke="#0e0a16" stroke-width="1.4"/>
<rect x="638.90" y="418.43" width="52.10" height="311.02" fill="#848484" stroke="#0e0a16" stroke-width="1.55"/>
<rect x="817.00" y="503.25" width="52.00" height="226.20" fill="#fff" stroke="#0e0a16" stroke-width="1.4"/>
<rect x="869.00" y="335.96" width="52.30" height="393.49" fill="#848484" stroke="#0e0a16" stroke-width="1.55"/>
<line x1="383.00" y1="417.40" x2="383.00" y2="442.70" stroke="#2e2540" stroke-width="1.6"/>
<line x1="376.60" y1="417.50" x2="389.40" y2="417.50" stroke="#2e2540" stroke-width="1.25"/>
<line x1="376.60" y1="442.50" x2="389.40" y2="442.50" stroke="#2e2540" stroke-width="1.25"/>
<line x1="434.60" y1="461.70" x2="434.60" y2="508.40" stroke="#2e2540" stroke-width="1.6"/>
<line x1="428.20" y1="461.50" x2="441.00" y2="461.50" stroke="#2e2540" stroke-width="1.25"/>
<line x1="428.20" y1="508.50" x2="441.00" y2="508.50" stroke="#2e2540" stroke-width="1.25"/>
<line x1="613.20" y1="489.50" x2="613.20" y2="518.00" stroke="#2e2540" stroke-width="1.6"/>
<line x1="606.80" y1="489.50" x2="619.60" y2="489.50" stroke="#2e2540" stroke-width="1.25"/>
<line x1="606.80" y1="518.50" x2="619.60" y2="518.50" stroke="#2e2540" stroke-width="1.25"/>
<line x1="664.80" y1="387.30" x2="664.80" y2="449.50" stroke="#2e2540" stroke-width="1.6"/>
<line x1="658.40" y1="387.50" x2="671.20" y2="387.50" stroke="#2e2540" stroke-width="1.25"/>
<line x1="658.40" y1="449.50" x2="671.20" y2="449.50" stroke="#2e2540" stroke-width="1.25"/>
<line x1="843.30" y1="489.50" x2="843.30" y2="518.00" stroke="#2e2540" stroke-width="1.6"/>
<line x1="836.90" y1="489.50" x2="849.70" y2="489.50" stroke="#2e2540" stroke-width="1.25"/>
<line x1="836.90" y1="518.50" x2="849.70" y2="518.50" stroke="#2e2540" stroke-width="1.25"/>
<line x1="895.00" y1="298.30" x2="895.00" y2="373.30" stroke="#2e2540" stroke-width="1.6"/>
<line x1="888.60" y1="298.50" x2="901.40" y2="298.50" stroke="#2e2540" stroke-width="1.25"/>
<line x1="888.60" y1="373.50" x2="901.40" y2="373.50" stroke="#2e2540" stroke-width="1.25"/>
<line x1="178.50" y1="139.20" x2="178.50" y2="730.85" stroke="#0e0a16" stroke-width="2.8"/>
<line x1="165.10" y1="729.45" x2="984.50" y2="729.45" stroke="#0e0a16" stroke-width="3.0"/>
<line x1="165.10" y1="140.40" x2="178.50" y2="140.40" stroke="#0e0a16" stroke-width="2.4"/>
<line x1="171.50" y1="199.31" x2="178.50" y2="199.31" stroke="#0e0a16" stroke-width="2.0"/>
<line x1="165.10" y1="258.21" x2="178.50" y2="258.21" stroke="#0e0a16" stroke-width="2.4"/>
<line x1="171.50" y1="317.12" x2="178.50" y2="317.12" stroke="#0e0a16" stroke-width="2.0"/>
<line x1="165.10" y1="376.02" x2="178.50" y2="376.02" stroke="#0e0a16" stroke-width="2.4"/>
<line x1="171.50" y1="434.93" x2="178.50" y2="434.93" stroke="#0e0a16" stroke-width="2.0"/>
<line x1="165.10" y1="493.83" x2="178.50" y2="493.83" stroke="#0e0a16" stroke-width="2.4"/>
<line x1="171.50" y1="552.74" x2="178.50" y2="552.74" stroke="#0e0a16" stroke-width="2.0"/>
<line x1="165.10" y1="611.64" x2="178.50" y2="611.64" stroke="#0e0a16" stroke-width="2.4"/>
<line x1="171.50" y1="670.55" x2="178.50" y2="670.55" stroke="#0e0a16" stroke-width="2.0"/>
<text class="s" font-size="42.3" transform="translate(108.93 154.10) scale(0.9576 1)">2.5</text>
<text class="s" font-size="42.3" transform="translate(108.89 271.66) scale(0.9914 1)">2.0</text>
<text class="s" font-size="42.3" transform="translate(108.94 389.22) scale(0.9575 1)">1.5</text>
<text class="s" font-size="42.3" transform="translate(108.82 506.78) scale(0.9928 1)">1.0</text>
<text class="s" font-size="42.3" transform="translate(108.93 624.34) scale(0.9576 1)">0.5</text>
<text class="s" font-size="42.3" transform="translate(108.89 741.90) scale(0.9914 1)">0<tspan dy="1.7">.</tspan><tspan dy="-1.7">0</tspan></text>
<text class="s" font-size="40" transform="translate(75.41 51.50) scale(1.0288 1)">(a)</text>
<text class="s" font-size="42" transform="translate(100.10 672.72) rotate(-90) scale(0.9281 1)">Iba-1</text>
<text class="s" font-size="42" transform="translate(100.10 577.92) rotate(-90) scale(0.9509 1)">protein</text>
<text class="s" font-size="42" transform="translate(100.10 451.22) rotate(-90) scale(0.9384 1)">levels,</text>
<text class="s" font-size="42" transform="translate(100.10 336.61) rotate(-90) scale(0.9298 1)">rel.</text>
<text class="s" font-size="42" transform="translate(100.10 274.40) rotate(-90) scale(0.9486 1)">units</text>
<text class="s" font-size="33.5" transform="translate(467.86 35.80) scale(0.9892 1)">2nd day</text>
<text class="s" font-size="33.5" transform="translate(724.43 35.80) scale(0.9871 1)">7th day</text>
<line x1="377.50" y1="47.60" x2="604.00" y2="47.60" stroke="#0e0a16" stroke-width="2.3"/>
<line x1="625.00" y1="47.60" x2="931.50" y2="47.60" stroke="#0e0a16" stroke-width="2.3"/>
<line x1="377.00" y1="116.80" x2="486.00" y2="116.80" stroke="#0e0a16" stroke-width="2.2"/>
<line x1="496.50" y1="116.80" x2="606.50" y2="116.80" stroke="#0e0a16" stroke-width="2.2"/>
<line x1="621.50" y1="116.80" x2="731.00" y2="116.80" stroke="#0e0a16" stroke-width="2.2"/>
<line x1="742.70" y1="116.80" x2="773.70" y2="116.80" stroke="#0e0a16" stroke-width="2.2"/>
<line x1="785.80" y1="116.80" x2="850.80" y2="116.80" stroke="#0e0a16" stroke-width="2.2"/>
<line x1="864.00" y1="116.80" x2="931.50" y2="116.80" stroke="#0e0a16" stroke-width="2.2"/>
<text class="s" font-size="29.8" transform="translate(393.44 110.82) rotate(-19.4) scale(1.0000 1)">Saline</text>
<text class="s" font-size="28.4" transform="translate(513.57 109.74) rotate(-18.3) scale(1.0200 1)">LPS 0.5</text>
<text class="s" font-size="29.8" transform="translate(637.14 110.82) rotate(-19.4) scale(1.0000 1)">Saline</text>
<text class="s" font-size="28.4" transform="translate(744.77 109.34) rotate(-18.3) scale(1.0200 1)">LPS 5</text>
<text class="s" font-size="28.4" transform="translate(819.77 109.04) rotate(-18.3) scale(1.0200 1)">LPS 0.5</text>
<text class="s" font-size="28.4" transform="translate(911.87 110.04) rotate(-18.3) scale(1.0200 1)">LPS 5</text>
<text class="s" font-size="32" transform="translate(283.02 154.00) scale(0.9844 1)">Iba-1</text>
<text class="s" font-size="32" transform="translate(281.00 200.80) scale(0.9846 1)">Actin</text>
<rect x="201.90" y="285.90" width="69.20" height="34.30" fill="#fff" stroke="#0e0a16" stroke-width="1.7"/>
<rect x="201.90" y="325.00" width="69.20" height="34.20" fill="#848484" stroke="#0e0a16" stroke-width="1.7"/>
<text class="s" font-size="31" transform="translate(278.98 313.80) scale(1.0419 1)">Saline</text>
<text class="s" font-size="31" transform="translate(280.51 352.00) scale(1.0216 1)">LPS</text>
<text class="b" font-size="45.5" transform="translate(655.10 388.00) scale(1.0296 1)">*</text>
<text class="b" font-size="45.5" transform="translate(884.80 301.00) scale(1.0296 1)">*</text>
<text class="s" font-size="28" transform="translate(238.06 762.30) scale(1.0143 1)">Dosage:</text>
<text class="s" font-size="28" transform="translate(73.85 802.00) scale(1.0281 1)">Number of treatments:</text>
<text class="s" font-size="28" transform="translate(16.55 841.50) scale(1.0287 1)">Day after start of treatment:</text>
<text class="s" font-size="28" transform="translate(352.50 762.30) scale(1.0245 1)">0.5 mg/kg</text>
<text class="s" font-size="28" transform="translate(377.80 802.00) scale(1.0322 1)">single</text>
<text class="s" font-size="28" transform="translate(387.33 841.50) scale(0.9945 1)">2nd</text>
<text class="s" font-size="28" transform="translate(579.71 762.30) scale(1.0174 1)">0.5 mg/kg</text>
<text class="s" font-size="28" transform="translate(585.95 802.00) scale(1.0228 1)">fourfold</text>
<text class="s" font-size="28" transform="translate(618.69 841.50) scale(1.0344 1)">7th</text>
<text class="s" font-size="28" transform="translate(818.66 762.30) scale(1.0241 1)">5 mg/kg</text>
<text class="s" font-size="28" transform="translate(830.60 802.00) scale(1.0322 1)">single</text>
<text class="s" font-size="28" transform="translate(846.88 841.50) scale(1.0373 1)">7th</text>
<rect x="1362.80" y="486.14" width="51.20" height="244.56" fill="#fff" stroke="#0e0a16" stroke-width="1.4"/>
<rect x="1414.00" y="409.53" width="52.20" height="321.17" fill="#848484" stroke="#0e0a16" stroke-width="1.55"/>
<rect x="1592.80" y="385.96" width="51.50" height="344.74" fill="#fff" stroke="#0e0a16" stroke-width="1.4"/>
<rect x="1644.30" y="512.66" width="52.20" height="218.04" fill="#848484" stroke="#0e0a16" stroke-width="1.55"/>
<rect x="1822.80" y="385.96" width="52.20" height="344.74" fill="#fff" stroke="#0e0a16" stroke-width="1.4"/>
<rect x="1875.00" y="483.19" width="51.50" height="247.51" fill="#848484" stroke="#0e0a16" stroke-width="1.55"/>
<line x1="1389.00" y1="463.00" x2="1389.00" y2="509.50" stroke="#2e2540" stroke-width="1.2"/>
<line x1="1382.60" y1="463.50" x2="1395.40" y2="463.50" stroke="#2e2540" stroke-width="1.25"/>
<line x1="1382.60" y1="509.50" x2="1395.40" y2="509.50" stroke="#2e2540" stroke-width="1.25"/>
<line x1="1440.30" y1="373.80" x2="1440.30" y2="445.00" stroke="#2e2540" stroke-width="1.2"/>
<line x1="1433.90" y1="373.50" x2="1446.70" y2="373.50" stroke="#2e2540" stroke-width="1.25"/>
<line x1="1433.90" y1="445.50" x2="1446.70" y2="445.50" stroke="#2e2540" stroke-width="1.25"/>
<line x1="1618.50" y1="364.50" x2="1618.50" y2="406.30" stroke="#2e2540" stroke-width="1.2"/>
<line x1="1612.10" y1="364.50" x2="1624.90" y2="364.50" stroke="#2e2540" stroke-width="1.25"/>
<line x1="1612.10" y1="406.50" x2="1624.90" y2="406.50" stroke="#2e2540" stroke-width="1.25"/>
<line x1="1670.30" y1="489.30" x2="1670.30" y2="536.30" stroke="#2e2540" stroke-width="1.2"/>
<line x1="1663.90" y1="489.50" x2="1676.70" y2="489.50" stroke="#2e2540" stroke-width="1.25"/>
<line x1="1663.90" y1="536.50" x2="1676.70" y2="536.50" stroke="#2e2540" stroke-width="1.25"/>
<line x1="1848.50" y1="364.50" x2="1848.50" y2="406.30" stroke="#2e2540" stroke-width="1.2"/>
<line x1="1842.10" y1="364.50" x2="1854.90" y2="364.50" stroke="#2e2540" stroke-width="1.25"/>
<line x1="1842.10" y1="406.50" x2="1854.90" y2="406.50" stroke="#2e2540" stroke-width="1.25"/>
<line x1="1900.50" y1="451.00" x2="1900.50" y2="515.30" stroke="#2e2540" stroke-width="1.2"/>
<line x1="1894.10" y1="451.50" x2="1906.90" y2="451.50" stroke="#2e2540" stroke-width="1.25"/>
<line x1="1894.10" y1="515.50" x2="1906.90" y2="515.50" stroke="#2e2540" stroke-width="1.25"/>
<line x1="1184.70" y1="140.20" x2="1184.70" y2="732.10" stroke="#0e0a16" stroke-width="2.8"/>
<line x1="1171.10" y1="730.70" x2="1990.50" y2="730.70" stroke="#0e0a16" stroke-width="3.0"/>
<line x1="1171.10" y1="141.40" x2="1184.70" y2="141.40" stroke="#0e0a16" stroke-width="2.4"/>
<line x1="1177.70" y1="215.06" x2="1184.70" y2="215.06" stroke="#0e0a16" stroke-width="2.0"/>
<line x1="1171.10" y1="288.73" x2="1184.70" y2="288.73" stroke="#0e0a16" stroke-width="2.4"/>
<line x1="1177.70" y1="362.39" x2="1184.70" y2="362.39" stroke="#0e0a16" stroke-width="2.0"/>
<line x1="1171.10" y1="436.05" x2="1184.70" y2="436.05" stroke="#0e0a16" stroke-width="2.4"/>
<line x1="1177.70" y1="509.71" x2="1184.70" y2="509.71" stroke="#0e0a16" stroke-width="2.0"/>
<line x1="1171.10" y1="583.38" x2="1184.70" y2="583.38" stroke="#0e0a16" stroke-width="2.4"/>
<line x1="1177.70" y1="657.04" x2="1184.70" y2="657.04" stroke="#0e0a16" stroke-width="2.0"/>
<text class="s" font-size="42.3" transform="translate(1116.79 156.20) scale(0.9874 1)">2.0</text>
<text class="s" font-size="42.3" transform="translate(1116.85 302.90) scale(0.9534 1)">1.5</text>
<text class="s" font-size="42.3" transform="translate(1116.73 449.50) scale(0.9886 1)">1.0</text>
<text class="s" font-size="42.3" transform="translate(1116.84 596.20) scale(0.9536 1)">0.5</text>
<text class="s" font-size="42.3" transform="translate(1116.80 741.70) scale(0.9854 1)">0<tspan font-size="26" dx="2.2">,</tspan><tspan dx="2.0">0</tspan></text>
<text class="s" font-size="40" transform="translate(1039.18 51.50) scale(1.0581 1)">(b)</text>
<text class="s" font-size="42" transform="translate(1060.30 686.70) rotate(-90) scale(0.9610 1)">Active</text>
<text class="s" font-size="42" transform="translate(1060.30 569.36) rotate(-90) scale(0.9594 1)">caspase-3</text>
<text class="s" font-size="42" transform="translate(1060.30 401.12) rotate(-90) scale(0.9408 1)">protein</text>
<text class="s" font-size="42" transform="translate(1060.30 275.94) rotate(-90) scale(0.9678 1)">levels,</text>
<text class="s" font-size="42" transform="translate(1111.20 501.33) rotate(-90) scale(0.9628 1)">rel.</text>
<text class="s" font-size="42" transform="translate(1111.20 437.70) rotate(-90) scale(0.9636 1)">units</text>
<text class="s" font-size="33.5" transform="translate(1450.95 40.00) scale(1.0005 1)">2nd day</text>
<text class="s" font-size="33.5" transform="translate(1707.73 40.00) scale(0.9871 1)">7th day</text>
<line x1="1361.50" y1="52.00" x2="1588.00" y2="52.00" stroke="#0e0a16" stroke-width="2.3"/>
<line x1="1609.00" y1="52.00" x2="1915.50" y2="52.00" stroke="#0e0a16" stroke-width="2.3"/>
<line x1="1364.00" y1="119.20" x2="1481.00" y2="119.20" stroke="#0e0a16" stroke-width="2.3"/>
<line x1="1492.80" y1="119.20" x2="1602.30" y2="119.20" stroke="#0e0a16" stroke-width="2.3"/>
<line x1="1616.50" y1="119.20" x2="1687.80" y2="119.20" stroke="#0e0a16" stroke-width="2.3"/>
<line x1="1699.00" y1="119.20" x2="1805.50" y2="119.20" stroke="#0e0a16" stroke-width="2.3"/>
<line x1="1818.50" y1="119.20" x2="1926.00" y2="119.20" stroke="#0e0a16" stroke-width="2.3"/>
<text class="s" font-size="29.8" transform="translate(1377.44 115.22) rotate(-19.4) scale(1.0000 1)">Saline</text>
<text class="s" font-size="28.4" transform="translate(1497.87 114.34) rotate(-18.3) scale(1.0200 1)">LPS 0.5</text>
<text class="s" font-size="29.8" transform="translate(1621.14 115.22) rotate(-19.4) scale(1.0000 1)">Saline</text>
<text class="s" font-size="28.4" transform="translate(1715.97 113.64) rotate(-18.3) scale(1.0200 1)">LPS 0.5</text>
<text class="s" font-size="28.4" transform="translate(1839.37 114.64) rotate(-18.3) scale(1.0200 1)">LPS 5</text>
<text class="s" font-size="32" transform="translate(1235.00 136.40) scale(0.9989 1)">Active</text>
<text class="s" font-size="32" transform="translate(1217.50 158.80) scale(1.0010 1)">caspase-3</text>
<text class="s" font-size="32" transform="translate(1272.30 199.00) scale(0.9860 1)">Actin</text>
<rect x="1224.30" y="287.00" width="70.00" height="33.80" fill="#fff" stroke="#0e0a16" stroke-width="1.6"/>
<rect x="1224.30" y="326.00" width="70.00" height="34.00" fill="#848484" stroke="#0e0a16" stroke-width="1.6"/>
<text class="s" font-size="31" transform="translate(1302.70 314.50) scale(1.0325 1)">Saline</text>
<text class="s" font-size="31" transform="translate(1304.21 352.50) scale(1.0119 1)">LPS</text>
<text class="b" font-size="45.5" transform="translate(1661.90 488.90) scale(1.0240 1)">*</text>
<text class="b" font-size="47" transform="translate(1892.90 453.00) scale(1.0077 1)">*</text>
<text class="s" font-size="28" transform="translate(1240.55 763.00) scale(1.0289 1)">Dosage:</text>
<text class="s" font-size="28" transform="translate(1077.35 802.50) scale(1.0309 1)">Number of treatments:</text>
<text class="s" font-size="28" transform="translate(1019.85 841.80) scale(1.0317 1)">Day after start of treatment:</text>
<text class="s" font-size="28" transform="translate(1355.60 763.00) scale(1.0245 1)">0.5 mg/kg</text>
<text class="s" font-size="28" transform="translate(1380.59 802.50) scale(1.0445 1)">single</text>
<text class="s" font-size="28" transform="translate(1390.11 841.80) scale(1.0213 1)">2nd</text>
<text class="s" font-size="28" transform="translate(1582.60 763.00) scale(1.0317 1)">0.5 mg/kg</text>
<text class="s" font-size="28" transform="translate(1589.35 802.50) scale(1.0261 1)">fourfold</text>
<text class="s" font-size="28" transform="translate(1621.67 841.80) scale(1.0432 1)">7th</text>
<text class="s" font-size="28" transform="translate(1822.14 763.00) scale(1.0329 1)">5 mg/kg</text>
<text class="s" font-size="28" transform="translate(1833.38 802.50) scale(1.0475 1)">single</text>
<text class="s" font-size="28" transform="translate(1850.99 841.80) scale(1.0344 1)">7th</text>
</svg></body></html>
